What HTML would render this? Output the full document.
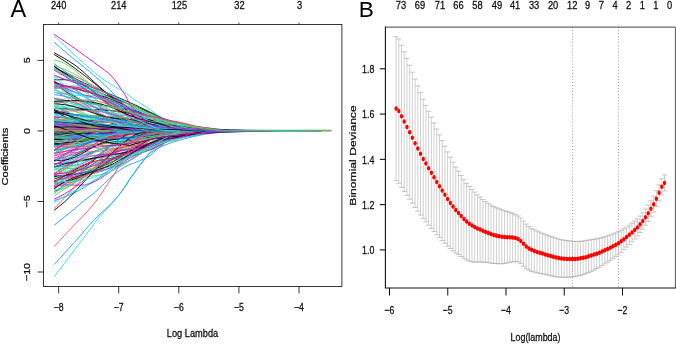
<!DOCTYPE html>
<html><head><meta charset="utf-8"><title>LASSO coefficient paths and cross-validation</title>
<style>html,body{margin:0;padding:0;background:#fff}svg{display:block;will-change:transform}text{font-family:"Liberation Sans", sans-serif}</style>
</head><body>
<svg width="676" height="344" viewBox="0 0 676 344">
<rect width="676" height="344" fill="#fff"/>
<g fill="none" stroke-width="0.9" stroke-linejoin="round">
<polyline stroke="#000000" points="54.1,119.7 59.1,119.8 64.2,120.1 69.2,120.5 74.3,121.0 79.3,121.6 84.4,122.3 89.4,123.1 94.4,123.9 99.5,124.7 104.5,125.6 109.6,126.4 114.6,127.2 119.7,127.9 124.7,128.5 129.7,129.1 134.8,129.5 139.8,129.8 144.9,130.1 149.9,130.3 155.0,130.3 160.0,130.4 165.0,130.5 170.1,130.7 175.1,130.9 180.2,130.9"/>
<polyline stroke="#DF536B" points="54.1,156.0 59.1,153.8 64.2,151.7 69.2,149.7 74.3,147.6 79.3,145.7 84.4,143.7 89.4,141.9 94.4,140.1 99.5,138.4 104.5,136.8 109.6,135.3 114.6,134.0 119.7,132.7 124.7,131.7 129.7,131.1 134.8,130.9 139.8,130.9"/>
<polyline stroke="#61D04F" points="54.1,119.7 59.1,120.5 64.2,121.2 69.2,121.9 74.3,122.5 79.3,123.1 84.4,123.8 89.4,124.6 94.4,125.5 99.5,126.4 104.5,127.4 109.6,128.6 114.6,129.9 119.7,130.8 124.7,130.9 129.7,130.9"/>
<polyline stroke="#2297E6" points="54.1,137.9 59.1,137.9 64.2,138.2 69.2,138.6 74.3,139.1 79.3,139.5 84.4,139.8 89.4,139.9 94.4,139.6 99.5,139.1 104.5,138.4 109.6,137.6 114.6,136.7 119.7,135.8 124.7,135.1 129.7,134.5 134.8,134.0 139.8,133.7 144.9,133.6 149.9,133.4 155.0,133.3 160.0,132.9 165.0,132.4 170.1,131.8 175.1,131.1 180.2,130.9 185.2,130.9"/>
<polyline stroke="#28E2E5" points="54.1,131.0 59.1,131.0 64.2,131.0 69.2,131.1 74.3,131.1 79.3,131.2 84.4,131.2 89.4,131.2 94.4,131.2 99.5,131.2 104.5,131.0 109.6,130.9 114.6,130.9"/>
<polyline stroke="#CD0BBC" points="54.1,112.7 59.1,112.8 64.2,113.1 69.2,113.7 74.3,114.4 79.3,115.2 84.4,116.1 89.4,117.1 94.4,118.1 99.5,119.1 104.5,120.1 109.6,121.0 114.6,121.9 119.7,122.7 124.7,123.4 129.7,124.1 134.8,124.6 139.8,125.2 144.9,125.7 149.9,126.3 155.0,126.9 160.0,127.5 165.0,128.4 170.1,129.3 175.1,130.4 180.2,130.9 185.2,130.9"/>
<polyline stroke="#000000" points="54.1,146.0 59.1,144.8 64.2,143.7 69.2,142.6 74.3,141.7 79.3,140.7 84.4,139.8 89.4,138.8 94.4,137.9 99.5,136.9 104.5,135.9 109.6,134.9 114.6,133.9 119.7,132.7 124.7,131.7 129.7,131.0 134.8,130.9 139.8,130.9"/>
<polyline stroke="#DF536B" points="54.1,137.2 59.1,136.0 64.2,135.0 69.2,134.2 74.3,133.5 79.3,133.0 84.4,132.6 89.4,132.2 94.4,131.7 99.5,130.9 104.5,130.9"/>
<polyline stroke="#61D04F" points="54.1,147.1 59.1,146.0 64.2,144.6 69.2,143.2 74.3,141.7 79.3,140.3 84.4,138.9 89.4,137.8 94.4,136.8 99.5,136.1 104.5,135.6 109.6,135.3 114.6,135.1 119.7,134.9 124.7,134.8 129.7,134.7 134.8,134.4 139.8,134.0 144.9,133.3 149.9,132.5 155.0,131.8 160.0,131.2 165.0,130.9 170.1,130.9"/>
<polyline stroke="#2297E6" points="54.1,122.9 59.1,123.4 64.2,123.7 69.2,123.9 74.3,123.8 79.3,123.7 84.4,123.7 89.4,123.7 94.4,123.9 99.5,124.3 104.5,124.9 109.6,125.6 114.6,126.5 119.7,127.5 124.7,128.6 129.7,129.5 134.8,130.3 139.8,130.9 144.9,130.9"/>
<polyline stroke="#28E2E5" points="54.1,117.3 59.1,117.5 64.2,117.5 69.2,117.5 74.3,117.5 79.3,117.5 84.4,117.6 89.4,117.9 94.4,118.3 99.5,118.9 104.5,119.7 109.6,120.7 114.6,121.8 119.7,123.1 124.7,124.5 129.7,125.9 134.8,127.3 139.8,128.6 144.9,129.7 149.9,130.7 155.0,130.9 160.0,130.9"/>
<polyline stroke="#CD0BBC" points="54.1,126.1 59.1,126.8 64.2,127.3 69.2,127.6 74.3,127.7 79.3,127.6 84.4,127.5 89.4,127.3 94.4,127.3 99.5,127.3 104.5,127.4 109.6,127.7 114.6,128.2 119.7,128.7 124.7,129.2 129.7,129.7 134.8,130.2 139.8,130.6 144.9,130.7 149.9,130.8 155.0,130.9 160.0,130.9 165.0,130.9"/>
<polyline stroke="#000000" points="54.1,84.3 59.1,87.2 64.2,90.4 69.2,93.5 74.3,96.4 79.3,99.0 84.4,101.2 89.4,102.9 94.4,104.1 99.5,105.0 104.5,105.6 109.6,106.2 114.6,106.7 119.7,107.4 124.7,108.3 129.7,109.7 134.8,111.2 139.8,112.3 144.9,114.2 149.9,116.3 155.0,118.4 160.0,120.0 165.0,121.2 170.1,122.3 175.1,123.1 180.2,123.9 185.2,124.9 190.3,125.9 195.3,127.6 200.3,128.9 205.4,129.9 210.4,130.7 215.5,130.9 220.5,130.9"/>
<polyline stroke="#DF536B" points="54.1,68.6 59.1,70.3 64.2,72.2 69.2,74.1 74.3,76.3 79.3,78.5 84.4,80.9 89.4,83.4 94.4,86.1 99.5,88.8 104.5,91.5 109.6,94.4 114.6,97.2 119.7,100.0 124.7,102.7 129.7,105.3 134.8,107.9 139.8,110.3 144.9,112.6 149.9,114.7 155.0,116.7 160.0,118.4 165.0,119.9 170.1,121.0 175.1,122.1 180.2,123.2 185.2,125.5 190.3,127.9 195.3,129.5 200.3,130.6 205.4,130.9 210.4,130.9"/>
<polyline stroke="#61D04F" points="54.1,145.5 59.1,144.1 64.2,142.7 69.2,141.4 74.3,140.1 79.3,139.1 84.4,138.3 89.4,137.7 94.4,137.4 99.5,137.3 104.5,137.4 109.6,137.4 114.6,137.4 119.7,137.4 124.7,137.1 129.7,136.7 134.8,136.1 139.8,135.4 144.9,134.5 149.9,133.6 155.0,132.7 160.0,132.0 165.0,131.5 170.1,131.0 175.1,130.9 180.2,130.9"/>
<polyline stroke="#2297E6" points="54.1,66.8 59.1,70.2 64.2,73.5 69.2,76.6 74.3,79.7 79.3,82.7 84.4,85.7 89.4,88.7 94.4,91.7 99.5,94.9 104.5,98.1 109.6,101.5 114.6,105.0 119.7,108.7 124.7,112.5 129.7,116.5 134.8,121.0 139.8,125.3 144.9,129.2 149.9,130.6 155.0,130.7 160.0,130.7 165.0,130.7 170.1,130.7 175.1,130.8 180.2,130.8 185.2,130.8 190.3,130.8 195.3,130.8 200.3,130.9 205.4,130.9 210.4,130.9 215.5,130.9 220.5,130.9"/>
<polyline stroke="#28E2E5" points="54.1,145.5 59.1,146.0 64.2,146.3 69.2,146.2 74.3,145.8 79.3,145.1 84.4,144.2 89.4,143.2 94.4,142.1 99.5,141.1 104.5,140.1 109.6,139.3 114.6,138.6 119.7,138.2 124.7,137.8 129.7,137.6 134.8,137.3 139.8,137.0 144.9,136.7 149.9,136.2 155.0,135.4 160.0,134.4 165.0,133.2 170.1,132.1 175.1,131.0 180.2,130.9 185.2,130.9"/>
<polyline stroke="#CD0BBC" points="54.1,158.2 59.1,156.4 64.2,154.1 69.2,151.6 74.3,149.0 79.3,146.4 84.4,144.2 89.4,142.3 94.4,140.8 99.5,139.8 104.5,139.3 109.6,139.0 114.6,139.0 119.7,139.0 124.7,138.9 129.7,138.7 134.8,138.2 139.8,137.4 144.9,136.3 149.9,135.2 155.0,133.8 160.0,132.7 165.0,131.8 170.1,131.3 175.1,131.0 180.2,130.9 185.2,130.9"/>
<polyline stroke="#000000" points="54.1,127.0 59.1,128.6 64.2,129.9 69.2,130.7 74.3,130.9 79.3,130.9"/>
<polyline stroke="#DF536B" points="54.1,92.1 59.1,93.7 64.2,95.7 69.2,98.1 74.3,100.9 79.3,104.0 84.4,107.1 89.4,110.2 94.4,113.1 99.5,115.7 104.5,118.0 109.6,119.9 114.6,121.5 119.7,122.8 124.7,123.8 129.7,124.6 134.8,125.4 139.8,126.3 144.9,127.4 149.9,128.8 155.0,130.2 160.0,130.9 165.0,130.9"/>
<polyline stroke="#61D04F" points="54.1,139.2 59.1,139.2 64.2,139.1 69.2,138.9 74.3,138.7 79.3,138.3 84.4,137.9 89.4,137.4 94.4,136.8 99.5,136.2 104.5,135.5 109.6,134.8 114.6,134.0 119.7,133.3 124.7,132.5 129.7,131.9 134.8,131.6 139.8,131.5 144.9,131.4 149.9,131.3 155.0,131.3 160.0,131.2 165.0,131.1 170.1,131.0 175.1,131.0 180.2,130.9 185.2,130.9"/>
<polyline stroke="#2297E6" points="54.1,137.0 59.1,136.4 64.2,135.8 69.2,135.1 74.3,134.5 79.3,133.8 84.4,133.1 89.4,132.5 94.4,132.0 99.5,131.5 104.5,131.2 109.6,131.0 114.6,130.9 119.7,130.9"/>
<polyline stroke="#28E2E5" points="54.1,92.1 59.1,93.1 64.2,94.0 69.2,94.7 74.3,95.2 79.3,95.5 84.4,95.6 89.4,95.7 94.4,95.9 99.5,96.3 104.5,96.8 109.6,97.7 114.6,98.9 119.7,100.0 124.7,102.6 129.7,105.4 134.8,108.2 139.8,110.9 144.9,113.4 149.9,115.7 155.0,117.9 160.0,119.5 165.0,120.7 170.1,121.9 175.1,122.8 180.2,124.7 185.2,127.0 190.3,128.9 195.3,130.4 200.3,130.9 205.4,130.9"/>
<polyline stroke="#CD0BBC" points="54.1,126.9 59.1,127.5 64.2,128.1 69.2,128.6 74.3,129.0 79.3,129.4 84.4,129.7 89.4,129.9 94.4,130.1 99.5,130.2 104.5,130.3 109.6,130.5 114.6,130.6 119.7,130.9 124.7,130.9 129.7,130.9"/>
<polyline stroke="#000000" points="54.1,79.8 59.1,79.8 64.2,79.7 69.2,80.0 74.3,80.8 79.3,82.6 84.4,85.2 89.4,88.6 94.4,92.6 99.5,96.8 104.5,100.8 109.6,104.4 114.6,107.3 119.7,109.5 124.7,111.0 129.7,112.0 134.8,112.7 139.8,113.4 144.9,114.4 149.9,115.8 155.0,117.7 160.0,120.1 165.0,122.9 170.1,125.5 175.1,127.7 180.2,129.4 185.2,130.8 190.3,130.9 195.3,130.9 200.3,130.9"/>
<polyline stroke="#DF536B" points="54.1,118.5 59.1,119.7 64.2,121.2 69.2,122.9 74.3,124.7 79.3,126.4 84.4,128.0 89.4,129.2 94.4,130.1 99.5,130.6 104.5,130.8 109.6,130.9 114.6,131.1 119.7,131.0 124.7,131.0 129.7,131.0 134.8,131.0 139.8,131.0 144.9,131.0 149.9,131.0 155.0,131.0 160.0,131.0 165.0,131.0 170.1,130.9 175.1,130.9"/>
<polyline stroke="#61D04F" points="54.1,175.5 59.1,173.2 64.2,171.7 69.2,170.8 74.3,170.3 79.3,170.0 84.4,169.6 89.4,168.8 94.4,167.7 99.5,166.0 104.5,163.7 109.6,161.1 114.6,158.1 119.7,155.0 124.7,152.1 129.7,149.3 134.8,147.3 139.8,145.7 144.9,144.3 149.9,142.7 155.0,141.0 160.0,139.7 165.0,138.8 170.1,137.8 175.1,137.2 180.2,136.6 185.2,135.8 190.3,135.0 195.3,134.1 200.3,133.6 205.4,132.9 210.4,132.1 215.5,131.5 220.5,131.1 225.6,130.9 230.6,130.9"/>
<polyline stroke="#2297E6" points="54.1,129.7 59.1,130.1 64.2,130.9 69.2,130.9"/>
<polyline stroke="#28E2E5" points="54.1,88.2 59.1,88.4 64.2,88.2 69.2,87.9 74.3,87.7 79.3,87.7 84.4,88.1 89.4,89.0 94.4,90.5 99.5,92.4 104.5,94.9 109.6,97.7 114.6,100.7 119.7,103.8 124.7,106.8 129.7,109.6 134.8,112.2 139.8,114.4 144.9,116.3 149.9,118.0 155.0,119.3 160.0,120.7 165.0,122.5 170.1,124.5 175.1,126.9 180.2,127.6 185.2,128.0 190.3,128.5 195.3,129.0 200.3,129.3 205.4,129.7 210.4,130.2 215.5,130.5 220.5,130.8 225.6,130.9 230.6,130.9"/>
<polyline stroke="#CD0BBC" points="54.1,160.4 59.1,158.9 64.2,157.2 69.2,155.5 74.3,153.7 79.3,151.8 84.4,149.8 89.4,147.9 94.4,145.9 99.5,143.9 104.5,141.9 109.6,140.0 114.6,138.1 119.7,136.3 124.7,134.7 129.7,133.8 134.8,133.5 139.8,133.2 144.9,132.9 149.9,132.7 155.0,132.4 160.0,132.2 165.0,132.1 170.1,132.0 175.1,131.9 180.2,131.8 185.2,131.6 190.3,131.4 195.3,131.2 200.3,131.0 205.4,130.9 210.4,130.9"/>
<polyline stroke="#000000" points="54.1,144.3 59.1,144.2 64.2,144.1 69.2,144.1 74.3,143.9 79.3,143.6 84.4,143.1 89.4,142.5 94.4,141.6 99.5,140.6 104.5,139.5 109.6,138.3 114.6,137.1 119.7,136.0 124.7,134.9 129.7,134.0 134.8,133.3 139.8,132.8 144.9,132.6 149.9,132.3 155.0,132.0 160.0,131.7 165.0,131.7 170.1,131.6 175.1,131.5 180.2,131.5 185.2,131.4 190.3,131.2 195.3,131.1 200.3,131.0 205.4,130.9 210.4,130.9"/>
<polyline stroke="#DF536B" points="54.1,135.8 59.1,134.4 64.2,133.2 69.2,131.9 74.3,130.5 79.3,128.9 84.4,127.2 89.4,125.3 94.4,123.4 99.5,121.4 104.5,119.5 109.6,117.9 114.6,116.5 119.7,115.6 124.7,115.3 129.7,115.3 134.8,115.5 139.8,117.4 144.9,119.1 149.9,120.6 155.0,122.1 160.0,123.5 165.0,125.9 170.1,128.0 175.1,129.6 180.2,130.9 185.2,130.9 190.3,130.9"/>
<polyline stroke="#61D04F" points="54.1,140.8 59.1,140.3 64.2,139.5 69.2,138.6 74.3,137.6 79.3,136.4 84.4,135.2 89.4,134.0 94.4,133.0 99.5,132.1 104.5,131.5 109.6,131.1 114.6,130.9 119.7,130.8 124.7,130.8 129.7,131.0 134.8,131.0 139.8,131.0 144.9,130.9 149.9,130.9 155.0,130.9 160.0,130.9"/>
<polyline stroke="#2297E6" points="54.1,136.8 59.1,136.1 64.2,135.4 69.2,134.6 74.3,133.8 79.3,133.1 84.4,132.4 89.4,131.8 94.4,131.4 99.5,131.2 104.5,131.0 109.6,130.9 114.6,130.9"/>
<polyline stroke="#28E2E5" points="54.1,134.5 59.1,133.7 64.2,133.0 69.2,132.4 74.3,131.9 79.3,131.5 84.4,131.3 89.4,131.2 94.4,131.1 99.5,131.1 104.5,131.1 109.6,130.9 114.6,130.9"/>
<polyline stroke="#CD0BBC" points="54.1,116.6 59.1,117.4 64.2,118.1 69.2,118.6 74.3,118.9 79.3,119.2 84.4,119.3 89.4,119.4 94.4,119.5 99.5,119.6 104.5,119.9 109.6,120.3 114.6,120.8 119.7,121.6 124.7,122.6 129.7,123.7 134.8,125.0 139.8,126.5 144.9,128.0 149.9,129.4 155.0,130.6 160.0,130.9 165.0,130.9"/>
<polyline stroke="#000000" points="54.1,52.7 59.1,55.5 64.2,58.3 69.2,61.4 74.3,64.7 79.3,68.5 84.4,72.9 89.4,77.6 94.4,82.3 99.5,86.8 104.5,91.1 109.6,95.1 114.6,98.8 119.7,102.1 124.7,105.1 129.7,107.7 134.8,110.1 139.8,112.2 144.9,114.1 149.9,116.0 155.0,117.8 160.0,119.6 165.0,121.6 170.1,123.8 175.1,126.0 180.2,128.2 185.2,130.1 190.3,130.9 195.3,130.9"/>
<polyline stroke="#DF536B" points="54.1,102.7 59.1,102.6 64.2,102.2 69.2,101.6 74.3,100.9 79.3,100.4 84.4,100.0 89.4,100.1 94.4,100.5 99.5,101.5 104.5,103.1 109.6,105.1 114.6,107.6 119.7,110.4 124.7,113.4 129.7,116.5 134.8,119.5 139.8,122.3 144.9,124.8 149.9,127.4 155.0,128.2 160.0,128.6 165.0,128.8 170.1,129.1 175.1,129.7 180.2,130.2 185.2,130.6 190.3,130.9 195.3,130.9 200.3,130.9"/>
<polyline stroke="#61D04F" points="54.1,192.1 59.1,188.2 64.2,184.7 69.2,181.9 74.3,179.8 79.3,178.3 84.4,177.2 89.4,176.4 94.4,175.7 99.5,174.9 104.5,173.7 109.6,172.0 114.6,169.6 119.7,167.0 124.7,164.1 129.7,160.7 134.8,157.1 139.8,153.4 144.9,149.9 149.9,146.6 155.0,143.7 160.0,141.4 165.0,139.3 170.1,137.2 175.1,134.9 180.2,132.4 185.2,132.0 190.3,131.8 195.3,131.6 200.3,131.5 205.4,131.4 210.4,131.3 215.5,131.1 220.5,131.0 225.6,131.0 230.6,130.9 235.6,130.9"/>
<polyline stroke="#2297E6" points="54.1,113.4 59.1,115.3 64.2,117.2 69.2,119.1 74.3,121.0 79.3,122.8 84.4,124.4 89.4,125.9 94.4,127.3 99.5,128.4 104.5,129.3 109.6,130.0 114.6,130.3 119.7,130.7 124.7,130.9 129.7,130.9"/>
<polyline stroke="#28E2E5" points="54.1,122.8 59.1,124.0 64.2,125.2 69.2,126.2 74.3,127.1 79.3,127.6 84.4,127.9 89.4,128.1 94.4,128.2 99.5,128.4 104.5,128.7 109.6,129.3 114.6,130.1 119.7,130.8 124.7,130.9 129.7,130.9"/>
<polyline stroke="#CD0BBC" points="54.1,121.6 59.1,122.3 64.2,123.1 69.2,124.2 74.3,125.4 79.3,126.8 84.4,128.2 89.4,129.5 94.4,130.6 99.5,131.4 104.5,132.0 109.6,132.2 114.6,132.2 119.7,132.0 124.7,131.8 129.7,131.5 134.8,131.3 139.8,131.3 144.9,131.4 149.9,131.4 155.0,131.2 160.0,130.9 165.0,130.9"/>
<polyline stroke="#000000" points="54.1,121.4 59.1,122.1 64.2,122.8 69.2,123.6 74.3,124.3 79.3,125.0 84.4,125.8 89.4,126.4 94.4,127.1 99.5,127.8 104.5,128.3 109.6,128.9 114.6,129.4 119.7,129.8 124.7,130.2 129.7,130.4 134.8,130.6 139.8,130.8 144.9,130.9 149.9,130.9"/>
<polyline stroke="#DF536B" points="54.1,153.5 59.1,149.8 64.2,146.9 69.2,144.7 74.3,143.4 79.3,142.6 84.4,142.1 89.4,141.8 94.4,141.3 99.5,140.5 104.5,139.3 109.6,137.7 114.6,135.9 119.7,133.9 124.7,132.0 129.7,130.3 134.8,129.0 139.8,128.5 144.9,128.5 149.9,128.8 155.0,129.1 160.0,129.4 165.0,129.5 170.1,129.7 175.1,129.8 180.2,129.9 185.2,130.1 190.3,130.2 195.3,130.4 200.3,130.5 205.4,130.7 210.4,130.8 215.5,130.9 220.5,130.9 225.6,130.9"/>
<polyline stroke="#61D04F" points="54.1,101.2 59.1,101.3 64.2,101.9 69.2,103.0 74.3,104.5 79.3,106.4 84.4,108.5 89.4,110.7 94.4,112.8 99.5,114.7 104.5,116.3 109.6,117.6 114.6,118.5 119.7,119.7 124.7,120.9 129.7,121.9 134.8,122.8 139.8,123.8 144.9,124.7 149.9,125.5 155.0,126.3 160.0,126.9 165.0,127.3 170.1,127.7 175.1,128.0 180.2,128.5 185.2,129.3 190.3,130.1 195.3,130.6 200.3,130.9 205.4,130.9"/>
<polyline stroke="#2297E6" points="54.1,89.8 59.1,91.6 64.2,93.4 69.2,95.4 74.3,97.5 79.3,99.8 84.4,102.2 89.4,104.6 94.4,107.2 99.5,109.9 104.5,112.5 109.6,115.1 114.6,117.6 119.7,119.9 124.7,122.1 129.7,124.1 134.8,125.8 139.8,127.2 144.9,128.4 149.9,129.1 155.0,129.4 160.0,129.6 165.0,129.9 170.1,130.3 175.1,130.4 180.2,130.5 185.2,130.5 190.3,130.6 195.3,130.7 200.3,130.8 205.4,130.9 210.4,130.9 215.5,130.9"/>
<polyline stroke="#2297E6" points="54.1,225.2 59.1,221.2 64.2,217.2 69.2,213.2 74.3,209.0 79.3,204.7 84.4,200.4 89.4,196.6 94.4,192.8 99.5,188.3 104.5,183.3 109.6,178.4 114.6,174.1 119.7,170.3 124.7,167.0 129.7,164.6 134.8,162.7 139.8,160.7 144.9,158.5 149.9,155.7 155.0,151.0 160.0,146.6 165.0,143.0 170.1,139.9 175.1,137.4 180.2,135.5 185.2,133.9 190.3,132.7 195.3,131.8 200.3,131.2 205.4,130.9 210.4,130.9"/>
<polyline stroke="#CD0BBC" points="54.1,175.7 59.1,172.7 64.2,169.5 69.2,166.2 74.3,162.9 79.3,159.8 84.4,156.8 89.4,154.1 94.4,151.7 99.5,149.7 104.5,148.1 109.6,146.7 114.6,145.6 119.7,144.8 124.7,144.0 129.7,143.2 134.8,142.4 139.8,141.4 144.9,140.2 149.9,138.5 155.0,136.8 160.0,135.1 165.0,133.9 170.1,133.5 175.1,133.3 180.2,133.0 185.2,132.6 190.3,132.0 195.3,131.5 200.3,131.1 205.4,130.9 210.4,130.9"/>
<polyline stroke="#000000" points="54.1,65.9 59.1,69.8 64.2,73.5 69.2,76.9 74.3,80.1 79.3,83.0 84.4,85.7 89.4,88.2 94.4,90.5 99.5,92.6 104.5,94.7 109.6,96.6 114.6,98.5 119.7,100.4 124.7,102.3 129.7,104.3 134.8,106.3 139.8,108.4 144.9,110.6 149.9,113.0 155.0,115.6 160.0,118.1 165.0,120.3 170.1,121.9 175.1,122.8 180.2,123.6 185.2,124.6 190.3,125.7 195.3,126.8 200.3,127.4 205.4,128.1 210.4,128.6 215.5,129.0 220.5,129.4 225.6,129.6 230.6,129.9 235.6,130.0 240.7,130.1 245.7,130.2 250.8,130.3 255.8,130.4 260.9,130.5 265.9,130.5 270.9,130.5 276.0,130.6 281.0,130.6 286.1,130.6 291.1,130.7 296.2,130.7 301.2,130.7 306.2,130.8 311.3,130.9 316.3,130.9 321.4,130.9"/>
<polyline stroke="#DF536B" points="54.1,142.4 59.1,141.8 64.2,141.3 69.2,140.7 74.3,140.3 79.3,139.8 84.4,139.4 89.4,139.0 94.4,138.6 99.5,138.3 104.5,138.0 109.6,137.6 114.6,137.3 119.7,137.0 124.7,136.6 129.7,136.2 134.8,135.8 139.8,135.4 144.9,134.9 149.9,134.3 155.0,133.7 160.0,132.9 165.0,132.1 170.1,131.3 175.1,130.9 180.2,130.9"/>
<polyline stroke="#61D04F" points="54.1,143.4 59.1,143.5 64.2,143.3 69.2,142.8 74.3,142.1 79.3,141.2 84.4,140.2 89.4,139.1 94.4,137.9 99.5,136.8 104.5,135.7 109.6,134.8 114.6,133.9 119.7,133.1 124.7,132.6 129.7,132.0 134.8,131.3 139.8,130.9 144.9,130.9"/>
<polyline stroke="#2297E6" points="54.1,146.7 59.1,145.1 64.2,143.1 69.2,141.1 74.3,139.1 79.3,137.1 84.4,135.5 89.4,134.1 94.4,133.2 99.5,132.6 104.5,132.2 109.6,132.1 114.6,132.0 119.7,131.9 124.7,131.6 129.7,131.2 134.8,130.9 139.8,130.9"/>
<polyline stroke="#28E2E5" points="54.1,85.1 59.1,86.0 64.2,86.2 69.2,86.1 74.3,85.9 79.3,86.1 84.4,86.9 89.4,88.3 94.4,90.3 99.5,92.9 104.5,95.9 109.6,98.9 114.6,101.7 119.7,104.1 124.7,105.7 129.7,107.1 134.8,108.5 139.8,111.2 144.9,113.7 149.9,115.8 155.0,118.0 160.0,119.6 165.0,120.9 170.1,123.8 175.1,126.4 180.2,128.6 185.2,130.4 190.3,130.9 195.3,130.9"/>
<polyline stroke="#CD0BBC" points="54.1,70.2 59.1,73.1 64.2,76.0 69.2,79.0 74.3,82.1 79.3,85.2 84.4,88.4 89.4,91.7 94.4,95.0 99.5,98.3 104.5,101.7 109.6,104.9 114.6,108.2 119.7,111.3 124.7,114.3 129.7,117.1 134.8,119.7 139.8,122.1 144.9,124.3 149.9,126.2 155.0,127.8 160.0,129.0 165.0,129.7 170.1,130.2 175.1,130.6 180.2,130.9 185.2,130.9 190.3,130.9 195.3,130.9 200.3,130.9 205.4,130.9 210.4,130.9 215.5,130.9 220.5,130.9"/>
<polyline stroke="#000000" points="54.1,138.3 59.1,138.3 64.2,138.0 69.2,137.4 74.3,136.6 79.3,135.7 84.4,134.8 89.4,134.0 94.4,133.3 99.5,132.8 104.5,132.5 109.6,132.3 114.6,132.1 119.7,131.8 124.7,131.3 129.7,130.9 134.8,130.9"/>
<polyline stroke="#DF536B" points="54.1,115.9 59.1,116.7 64.2,117.8 69.2,119.2 74.3,120.7 79.3,122.2 84.4,123.7 89.4,125.0 94.4,126.1 99.5,127.0 104.5,127.6 109.6,128.0 114.6,128.3 119.7,128.4 124.7,128.6 129.7,128.9 134.8,129.5 139.8,130.1 144.9,130.7 149.9,130.8 155.0,130.8 160.0,130.8 165.0,130.8 170.1,130.9 175.1,130.9 180.2,130.9 185.2,130.9"/>
<polyline stroke="#61D04F" points="54.1,191.2 59.1,190.1 64.2,188.5 69.2,186.3 74.3,183.4 79.3,179.9 84.4,175.8 89.4,171.5 94.4,167.1 99.5,162.9 104.5,159.1 109.6,155.7 114.6,152.9 119.7,150.6 124.7,148.8 129.7,147.1 134.8,145.5 139.8,143.8 144.9,141.5 149.9,138.8 155.0,135.9 160.0,134.6 165.0,134.2 170.1,133.8 175.1,133.5 180.2,133.3 185.2,132.9 190.3,132.6 195.3,132.3 200.3,132.0 205.4,131.8 210.4,131.7 215.5,131.5 220.5,131.4 225.6,131.3 230.6,131.3 235.6,131.2 240.7,131.2 245.7,131.1 250.8,131.1 255.8,131.1 260.9,131.0 265.9,131.0 270.9,131.0 276.0,130.9"/>
<polyline stroke="#2297E6" points="54.1,133.7 59.1,133.3 64.2,133.1 69.2,133.0 74.3,132.8 79.3,132.6 84.4,132.4 89.4,132.1 94.4,131.8 99.5,131.5 104.5,131.1 109.6,130.9 114.6,130.9"/>
<polyline stroke="#28E2E5" points="54.1,87.3 59.1,88.0 64.2,89.1 69.2,90.5 74.3,92.5 79.3,94.8 84.4,97.5 89.4,100.3 94.4,103.1 99.5,105.7 104.5,108.0 109.6,109.9 114.6,111.4 119.7,112.5 124.7,113.2 129.7,113.6 134.8,113.9 139.8,114.1 144.9,114.7 149.9,115.5 155.0,116.3 160.0,117.5 165.0,119.0 170.1,120.7 175.1,124.0 180.2,126.8 185.2,129.1 190.3,130.9 195.3,130.9 200.3,130.9"/>
<polyline stroke="#CD0BBC" points="54.1,140.1 59.1,138.4 64.2,136.9 69.2,135.6 74.3,134.6 79.3,133.8 84.4,133.2 89.4,132.9 94.4,132.8 99.5,132.7 104.5,132.7 109.6,132.8 114.6,132.7 119.7,132.6 124.7,132.3 129.7,132.0 134.8,131.6 139.8,131.2 144.9,131.0 149.9,130.9 155.0,130.9"/>
<polyline stroke="#000000" points="54.1,164.6 59.1,163.0 64.2,160.9 69.2,158.5 74.3,155.9 79.3,153.3 84.4,150.7 89.4,148.3 94.4,146.2 99.5,144.6 104.5,143.3 109.6,142.4 114.6,141.8 119.7,141.4 124.7,141.1 129.7,140.7 134.8,140.2 139.8,139.6 144.9,138.4 149.9,137.1 155.0,135.9 160.0,135.0 165.0,134.6 170.1,134.1 175.1,133.8 180.2,133.5 185.2,133.2 190.3,132.8 195.3,132.4 200.3,131.9 205.4,131.5 210.4,131.2 215.5,131.0 220.5,130.9 225.6,130.9"/>
<polyline stroke="#DF536B" points="54.1,124.3 59.1,125.3 64.2,126.2 69.2,126.7 74.3,127.0 79.3,127.0 84.4,127.0 89.4,126.9 94.4,126.8 99.5,126.9 104.5,127.1 109.6,127.5 114.6,128.1 119.7,128.7 124.7,129.4 129.7,130.0 134.8,130.4 139.8,130.7 144.9,130.9 149.9,130.9 155.0,130.9"/>
<polyline stroke="#61D04F" points="54.1,139.6 59.1,139.1 64.2,138.5 69.2,137.5 74.3,136.4 79.3,135.2 84.4,134.0 89.4,132.9 94.4,132.0 99.5,131.4 104.5,131.0 109.6,130.9 114.6,130.9 119.7,131.0 124.7,131.1 129.7,131.0 134.8,130.9 139.8,130.9"/>
<polyline stroke="#2297E6" points="54.1,118.4 59.1,120.1 64.2,121.9 69.2,123.7 74.3,125.4 79.3,127.0 84.4,128.3 89.4,129.5 94.4,130.2 99.5,130.9 104.5,130.9"/>
<polyline stroke="#28E2E5" points="54.1,114.6 59.1,115.5 64.2,116.7 69.2,118.3 74.3,120.1 79.3,122.2 84.4,124.4 89.4,126.5 94.4,128.6 99.5,130.6 104.5,132.2 109.6,133.6 114.6,134.7 119.7,135.6 124.7,136.2 129.7,136.6 134.8,137.0 139.8,137.4 144.9,138.0 149.9,138.7 155.0,139.5 160.0,139.7 165.0,138.8 170.1,137.9 175.1,137.2 180.2,136.1 185.2,134.2 190.3,132.7 195.3,131.6 200.3,130.9 205.4,130.9"/>
<polyline stroke="#CD0BBC" points="54.1,180.8 59.1,179.5 64.2,178.2 69.2,177.1 74.3,176.0 79.3,174.9 84.4,173.9 89.4,173.0 94.4,171.9 99.5,170.8 104.5,169.6 109.6,168.3 114.6,166.7 119.7,164.9 124.7,162.8 129.7,160.3 134.8,157.6 139.8,154.5 144.9,151.0 149.9,146.8 155.0,142.5 160.0,138.0 165.0,133.4 170.1,131.6 175.1,131.5 180.2,131.4 185.2,131.4 190.3,131.3 195.3,131.2 200.3,131.2 205.4,131.1 210.4,131.1 215.5,131.1 220.5,131.0 225.6,131.0 230.6,131.0 235.6,131.0 240.7,131.0 245.7,131.0 250.8,131.0 255.8,131.0 260.9,131.0 265.9,131.0 270.9,131.0 276.0,130.9"/>
<polyline stroke="#000000" points="54.1,66.3 59.1,69.6 64.2,72.6 69.2,75.5 74.3,78.1 79.3,80.7 84.4,83.1 89.4,85.3 94.4,87.5 99.5,89.7 104.5,91.8 109.6,93.9 114.6,96.0 119.7,98.1 124.7,100.3 129.7,102.5 134.8,104.8 139.8,107.2 144.9,109.6 149.9,112.0 155.0,114.5 160.0,116.9 165.0,119.4 170.1,122.0 175.1,124.5 180.2,126.7 185.2,128.6 190.3,130.1 195.3,130.9 200.3,130.9"/>
<polyline stroke="#DF536B" points="54.1,185.8 59.1,182.4 64.2,178.9 69.2,175.4 74.3,171.9 79.3,168.5 84.4,165.3 89.4,162.3 94.4,159.4 99.5,156.8 104.5,154.4 109.6,152.2 114.6,150.2 119.7,148.4 124.7,146.8 129.7,145.2 134.8,143.7 139.8,142.2 144.9,140.6 149.9,138.9 155.0,137.0 160.0,135.0 165.0,133.2 170.1,132.8 175.1,132.6 180.2,132.4 185.2,132.2 190.3,132.0 195.3,131.8 200.3,131.7 205.4,131.5 210.4,131.4 215.5,131.3 220.5,131.2 225.6,131.2 230.6,131.1 235.6,131.1 240.7,131.0 245.7,131.0 250.8,131.0 255.8,130.9"/>
<polyline stroke="#61D04F" points="54.1,83.6 59.1,84.6 64.2,85.5 69.2,86.5 74.3,87.9 79.3,89.7 84.4,92.1 89.4,95.1 94.4,98.5 99.5,102.2 104.5,106.1 109.6,110.0 114.6,113.6 119.7,116.8 124.7,119.6 129.7,121.9 134.8,123.8 139.8,125.2 144.9,126.2 149.9,127.3 155.0,128.7 160.0,130.1 165.0,130.9 170.1,130.9"/>
<polyline stroke="#2297E6" points="54.1,133.5 59.1,132.9 64.2,132.3 69.2,131.8 74.3,131.4 79.3,131.2 84.4,131.1 89.4,131.1 94.4,131.2 99.5,131.3 104.5,131.4 109.6,131.3 114.6,131.1 119.7,130.9 124.7,130.9"/>
<polyline stroke="#28E2E5" points="54.1,125.4 59.1,126.4 64.2,127.3 69.2,128.3 74.3,129.1 79.3,129.8 84.4,130.4 89.4,130.8 94.4,131.0 99.5,131.1 104.5,131.1 109.6,131.0 114.6,130.9 119.7,130.9"/>
<polyline stroke="#CD0BBC" points="54.1,137.8 59.1,137.4 64.2,137.0 69.2,136.8 74.3,136.7 79.3,136.6 84.4,136.6 89.4,136.6 94.4,136.6 99.5,136.5 104.5,136.4 109.6,136.2 114.6,135.8 119.7,135.3 124.7,134.8 129.7,134.1 134.8,133.2 139.8,132.4 144.9,131.6 149.9,131.0 155.0,130.9 160.0,130.9"/>
<polyline stroke="#000000" points="54.1,179.0 59.1,177.4 64.2,176.0 69.2,174.4 74.3,172.6 79.3,170.3 84.4,167.3 89.4,163.8 94.4,159.8 99.5,155.5 104.5,151.0 109.6,146.7 114.6,142.6 119.7,138.9 124.7,135.9 129.7,133.6 134.8,131.5 139.8,129.1 144.9,129.0 149.9,129.3 155.0,129.5 160.0,129.7 165.0,129.8 170.1,130.0 175.1,130.0 180.2,130.1 185.2,130.2 190.3,130.4 195.3,130.5 200.3,130.7 205.4,130.8 210.4,130.9 215.5,130.9 220.5,130.9"/>
<polyline stroke="#DF536B" points="54.1,132.4 59.1,131.8 64.2,131.4 69.2,130.9 74.3,130.9"/>
<polyline stroke="#28E2E5" points="54.1,276.6 59.1,270.3 64.2,263.6 69.2,256.9 74.3,250.2 79.3,243.5 84.4,236.9 89.4,230.0 94.4,223.1 99.5,216.9 104.5,211.5 109.6,206.0 114.6,200.2 119.7,194.1 124.7,186.7 129.7,178.7 134.8,171.5 139.8,164.7 144.9,158.2 149.9,152.1 155.0,147.9 160.0,144.5 165.0,142.1 170.1,140.6 175.1,139.3 180.2,138.2 185.2,137.3 190.3,136.4 195.3,135.4 200.3,134.4 205.4,133.3 210.4,132.7 215.5,132.2 220.5,131.8 225.6,131.4 230.6,131.0 235.6,130.9 240.7,130.9"/>
<polyline stroke="#2297E6" points="54.1,134.7 59.1,132.9 64.2,131.6 69.2,131.0 74.3,130.9 79.3,130.9"/>
<polyline stroke="#28E2E5" points="54.1,177.3 59.1,175.1 64.2,172.6 69.2,170.1 74.3,167.4 79.3,164.7 84.4,162.0 89.4,159.4 94.4,156.7 99.5,154.2 104.5,151.7 109.6,149.3 114.6,147.1 119.7,145.0 124.7,143.6 129.7,142.0 134.8,140.3 139.8,139.2 144.9,138.1 149.9,137.2 155.0,136.3 160.0,135.6 165.0,135.1 170.1,134.6 175.1,134.3 180.2,133.9 185.2,133.5 190.3,133.1 195.3,132.6 200.3,132.4 205.4,132.1 210.4,131.9 215.5,131.6 220.5,131.3 225.6,131.1 230.6,131.0 235.6,130.9 240.7,130.9"/>
<polyline stroke="#CD0BBC" points="54.1,86.8 59.1,86.6 64.2,86.4 69.2,86.5 74.3,86.9 79.3,87.8 84.4,89.2 89.4,91.0 94.4,93.2 99.5,95.8 104.5,98.6 109.6,101.3 114.6,104.0 119.7,106.6 124.7,108.7 129.7,110.3 134.8,111.8 139.8,113.6 144.9,115.8 149.9,117.7 155.0,119.6 160.0,121.0 165.0,122.1 170.1,123.1 175.1,124.3 180.2,126.5 185.2,128.4 190.3,129.9 195.3,130.9 200.3,130.9"/>
<polyline stroke="#000000" points="54.1,109.6 59.1,111.2 64.2,112.6 69.2,113.7 74.3,114.5 79.3,115.1 84.4,115.5 89.4,115.7 94.4,116.0 99.5,116.3 104.5,116.7 109.6,117.3 114.6,118.3 119.7,119.3 124.7,120.2 129.7,121.2 134.8,122.2 139.8,123.3 144.9,124.2 149.9,125.1 155.0,125.9 160.0,126.6 165.0,127.0 170.1,127.5 175.1,127.8 180.2,128.1 185.2,129.1 190.3,129.9 195.3,130.5 200.3,130.9 205.4,130.9 210.4,130.9"/>
<polyline stroke="#DF536B" points="54.1,133.1 59.1,132.8 64.2,132.4 69.2,132.1 74.3,131.8 79.3,131.5 84.4,131.3 89.4,131.1 94.4,131.0 99.5,131.0 104.5,131.0 109.6,130.9 114.6,130.9"/>
<polyline stroke="#61D04F" points="54.1,150.9 59.1,149.3 64.2,148.0 69.2,146.9 74.3,146.0 79.3,145.3 84.4,144.8 89.4,144.5 94.4,144.2 99.5,144.0 104.5,143.9 109.6,143.6 114.6,143.3 119.7,142.9 124.7,142.3 129.7,141.6 134.8,140.7 139.8,139.7 144.9,138.5 149.9,137.2 155.0,135.8 160.0,134.4 165.0,133.1 170.1,132.1 175.1,131.1 180.2,130.9 185.2,130.9"/>
<polyline stroke="#2297E6" points="54.1,137.9 59.1,138.0 64.2,138.0 69.2,137.8 74.3,137.4 79.3,136.7 84.4,135.9 89.4,135.0 94.4,134.1 99.5,133.2 104.5,132.6 109.6,132.1 114.6,131.8 119.7,131.7 124.7,131.7 129.7,131.8 134.8,131.8 139.8,131.7 144.9,131.4 149.9,131.1 155.0,130.9 160.0,130.9"/>
<polyline stroke="#28E2E5" points="54.1,119.6 59.1,119.5 64.2,119.6 69.2,119.9 74.3,120.5 79.3,121.2 84.4,122.1 89.4,123.1 94.4,124.1 99.5,125.2 104.5,126.4 109.6,127.4 114.6,128.5 119.7,129.2 124.7,130.0 129.7,130.8 134.8,130.9 139.8,130.9"/>
<polyline stroke="#CD0BBC" points="54.1,84.2 59.1,84.7 64.2,85.6 69.2,87.1 74.3,89.3 79.3,92.2 84.4,95.6 89.4,99.3 94.4,103.1 99.5,106.7 104.5,109.9 109.6,112.7 114.6,114.8 119.7,116.4 124.7,117.4 129.7,118.2 134.8,118.7 139.8,119.3 144.9,120.0 149.9,121.1 155.0,122.7 160.0,124.7 165.0,126.7 170.1,128.4 175.1,129.8 180.2,130.0 185.2,130.3 190.3,130.6 195.3,130.8 200.3,130.9 205.4,130.9 210.4,130.9"/>
<polyline stroke="#000000" points="54.1,54.4 59.1,57.5 64.2,60.8 69.2,64.2 74.3,67.8 79.3,71.6 84.4,75.5 89.4,79.4 94.4,83.4 99.5,87.5 104.5,91.7 109.6,95.9 114.6,100.2 119.7,104.4 124.7,108.7 129.7,112.9 134.8,117.5 139.8,121.7 144.9,125.5 149.9,128.1 155.0,128.5 160.0,128.8 165.0,129.1 170.1,129.3 175.1,129.5 180.2,129.9 185.2,130.4 190.3,130.7 195.3,130.9 200.3,130.9"/>
<polyline stroke="#DF536B" points="54.1,191.3 59.1,189.2 64.2,186.7 69.2,183.9 74.3,180.9 79.3,177.7 84.4,174.4 89.4,171.2 94.4,168.1 99.5,165.2 104.5,162.6 109.6,160.2 114.6,158.2 119.7,156.3 124.7,154.8 129.7,153.3 134.8,152.0 139.8,150.8 144.9,149.5 149.9,148.1 155.0,146.6 160.0,144.6 165.0,142.4 170.1,140.1 175.1,137.8 180.2,135.7 185.2,134.9 190.3,134.2 195.3,133.5 200.3,133.1 205.4,132.7 210.4,132.4 215.5,132.1 220.5,131.9 225.6,131.7 230.6,131.6 235.6,131.5 240.7,131.4 245.7,131.4 250.8,131.3 255.8,131.1 260.9,131.1 265.9,131.0 270.9,130.9"/>
<polyline stroke="#61D04F" points="54.1,170.1 59.1,168.8 64.2,168.3 69.2,168.4 74.3,168.7 79.3,168.8 84.4,168.2 89.4,167.0 94.4,164.9 99.5,162.1 104.5,158.9 109.6,155.4 114.6,152.2 119.7,149.3 124.7,146.9 129.7,145.2 134.8,144.0 139.8,143.4 144.9,142.5 149.9,141.3 155.0,140.0 160.0,138.8 165.0,138.0 170.1,137.2 175.1,136.6 180.2,136.0 185.2,135.3 190.3,134.6 195.3,133.8 200.3,133.4 205.4,132.9 210.4,132.5 215.5,132.3 220.5,132.0 225.6,131.6 230.6,131.3 235.6,131.1 240.7,131.0 245.7,130.9"/>
<polyline stroke="#2297E6" points="54.1,194.2 59.1,189.2 64.2,184.8 69.2,181.3 74.3,178.6 79.3,176.6 84.4,175.3 89.4,174.3 94.4,173.3 99.5,172.0 104.5,170.3 109.6,168.0 114.6,165.1 119.7,161.8 124.7,158.2 129.7,154.6 134.8,151.3 139.8,148.6 144.9,146.6 149.9,144.8 155.0,143.0 160.0,141.5 165.0,140.3 170.1,139.2 175.1,138.5 180.2,137.7 185.2,136.8 190.3,135.8 195.3,134.8 200.3,134.2 205.4,133.5 210.4,133.1 215.5,132.7 220.5,132.3 225.6,132.1 230.6,131.9 235.6,131.8 240.7,131.7 245.7,131.6 250.8,131.5 255.8,131.4 260.9,131.4 265.9,131.3 270.9,131.3 276.0,131.3 281.0,131.2 286.1,131.2 291.1,131.2 296.2,131.1 301.2,131.1 306.2,131.1 311.3,131.0 316.3,131.0 321.4,130.9"/>
<polyline stroke="#28E2E5" points="54.1,119.7 59.1,120.1 64.2,120.3 69.2,120.5 74.3,120.6 79.3,120.8 84.4,121.1 89.4,121.7 94.4,122.5 99.5,123.5 104.5,124.8 109.6,126.2 114.6,127.9 119.7,129.5 124.7,130.8 129.7,130.9 134.8,130.9"/>
<polyline stroke="#CD0BBC" points="54.1,137.1 59.1,136.4 64.2,135.9 69.2,135.5 74.3,135.1 79.3,134.8 84.4,134.6 89.4,134.4 94.4,134.2 99.5,134.0 104.5,133.9 109.6,133.7 114.6,133.6 119.7,133.4 124.7,133.2 129.7,132.9 134.8,132.6 139.8,132.1 144.9,131.7 149.9,131.3 155.0,130.9 160.0,130.9"/>
<polyline stroke="#000000" points="54.1,110.1 59.1,113.6 64.2,116.4 69.2,118.6 74.3,120.0 79.3,120.7 84.4,120.9 89.4,120.8 94.4,120.7 99.5,120.9 104.5,121.5 109.6,122.5 114.6,124.1 119.7,126.1 124.7,128.4 129.7,130.8 134.8,133.0 139.8,135.0 144.9,136.6 149.9,137.5 155.0,137.9 160.0,138.3 165.0,138.8 170.1,139.1 175.1,138.4 180.2,137.6 185.2,136.7 190.3,135.7 195.3,134.7 200.3,134.1 205.4,133.1 210.4,132.2 215.5,131.6 220.5,131.1 225.6,130.9 230.6,130.9"/>
<polyline stroke="#DF536B" points="54.1,128.9 59.1,129.3 64.2,129.6 69.2,129.8 74.3,129.8 79.3,129.7 84.4,129.5 89.4,129.4 94.4,129.3 99.5,129.2 104.5,129.2 109.6,129.3 114.6,129.6 119.7,129.8 124.7,130.1 129.7,130.4 134.8,130.7 139.8,130.8 144.9,130.9 149.9,130.9 155.0,130.9"/>
<polyline stroke="#61D04F" points="54.1,189.1 59.1,185.7 64.2,182.6 69.2,179.6 74.3,176.9 79.3,174.4 84.4,172.1 89.4,169.9 94.4,167.9 99.5,166.1 104.5,164.3 109.6,162.5 114.6,160.8 119.7,159.1 124.7,157.3 129.7,155.5 134.8,153.6 139.8,151.7 144.9,149.7 149.9,147.5 155.0,145.2 160.0,142.7 165.0,140.2 170.1,137.9 175.1,135.9 180.2,134.8 185.2,134.3 190.3,133.7 195.3,133.1 200.3,132.8 205.4,132.4 210.4,132.1 215.5,131.9 220.5,131.7 225.6,131.6 230.6,131.5 235.6,131.4 240.7,131.3 245.7,131.3 250.8,131.2 255.8,131.1 260.9,131.0 265.9,130.9"/>
<polyline stroke="#2297E6" points="54.1,124.5 59.1,124.8 64.2,125.2 69.2,125.7 74.3,126.2 79.3,126.8 84.4,127.3 89.4,127.9 94.4,128.5 99.5,129.0 104.5,129.6 109.6,130.0 114.6,130.3 119.7,130.7 124.7,130.9 129.7,130.9"/>
<polyline stroke="#28E2E5" points="54.1,105.9 59.1,107.8 64.2,110.0 69.2,112.5 74.3,115.1 79.3,117.6 84.4,119.9 89.4,121.7 94.4,123.2 99.5,124.2 104.5,124.8 109.6,125.2 114.6,125.3 119.7,125.5 124.7,125.8 129.7,126.2 134.8,126.9 139.8,128.0 144.9,129.2 149.9,130.2 155.0,130.8 160.0,130.9 165.0,130.9"/>
<polyline stroke="#CD0BBC" points="54.1,121.1 59.1,122.2 64.2,123.3 69.2,124.3 74.3,125.2 79.3,126.0 84.4,126.8 89.4,127.4 94.4,128.0 99.5,128.5 104.5,128.9 109.6,129.3 114.6,129.6 119.7,129.9 124.7,130.3 129.7,130.7 134.8,130.9 139.8,130.9"/>
<polyline stroke="#000000" points="54.1,139.5 59.1,139.5 64.2,139.5 69.2,139.5 74.3,139.4 79.3,139.2 84.4,139.0 89.4,138.7 94.4,138.4 99.5,137.9 104.5,137.5 109.6,136.9 114.6,136.4 119.7,135.8 124.7,135.1 129.7,134.4 134.8,133.7 139.8,132.9 144.9,132.2 149.9,131.5 155.0,130.9 160.0,130.9"/>
<polyline stroke="#DF536B" points="54.1,149.6 59.1,146.8 64.2,143.6 69.2,140.5 74.3,137.7 79.3,135.4 84.4,133.8 89.4,132.7 94.4,132.2 99.5,132.0 104.5,131.9 109.6,131.6 114.6,131.1 119.7,130.1 124.7,128.7 129.7,126.9 134.8,124.8 139.8,122.8 144.9,121.2 149.9,120.0 155.0,120.1 160.0,121.5 165.0,122.5 170.1,124.8 175.1,126.9 180.2,128.8 185.2,130.3 190.3,130.9 195.3,130.9"/>
<polyline stroke="#61D04F" points="54.1,137.9 59.1,137.7 64.2,137.4 69.2,137.1 74.3,136.8 79.3,136.4 84.4,136.1 89.4,135.7 94.4,135.2 99.5,134.8 104.5,134.4 109.6,134.0 114.6,133.5 119.7,133.1 124.7,132.7 129.7,132.3 134.8,132.0 139.8,131.7 144.9,131.5 149.9,131.3 155.0,131.0 160.0,130.9 165.0,130.9"/>
<polyline stroke="#2297E6" points="54.1,121.0 59.1,121.6 64.2,122.1 69.2,122.7 74.3,123.1 79.3,123.4 84.4,123.7 89.4,123.9 94.4,124.0 99.5,124.2 104.5,124.3 109.6,124.5 114.6,124.7 119.7,125.0 124.7,125.4 129.7,125.9 134.8,126.6 139.8,127.4 144.9,128.4 149.9,129.4 155.0,130.4 160.0,130.9 165.0,130.9"/>
<polyline stroke="#28E2E5" points="54.1,76.6 59.1,77.7 64.2,78.8 69.2,80.0 74.3,81.3 79.3,82.7 84.4,84.2 89.4,86.0 94.4,87.8 99.5,89.8 104.5,91.9 109.6,94.2 114.6,96.6 119.7,99.0 124.7,101.6 129.7,104.1 134.8,106.7 139.8,109.2 144.9,111.8 149.9,114.2 155.0,116.6 160.0,118.8 165.0,120.9 170.1,122.9 175.1,124.5 180.2,125.9 185.2,127.2 190.3,128.4 195.3,129.6 200.3,130.7 205.4,130.9 210.4,130.9"/>
<polyline stroke="#CD0BBC" points="54.1,150.3 59.1,146.9 64.2,143.6 69.2,140.8 74.3,138.5 79.3,136.8 84.4,135.7 89.4,135.0 94.4,134.6 99.5,134.2 104.5,133.8 109.6,133.1 114.6,132.0 119.7,131.1 124.7,130.9 129.7,130.9"/>
<polyline stroke="#000000" points="54.1,183.1 59.1,182.5 64.2,181.7 69.2,180.6 74.3,179.1 79.3,177.3 84.4,175.1 89.4,172.7 94.4,170.0 99.5,167.1 104.5,164.1 109.6,161.1 114.6,158.2 119.7,155.5 124.7,152.9 129.7,150.6 134.8,148.5 139.8,146.7 144.9,145.1 149.9,143.8 155.0,142.5 160.0,141.4 165.0,140.2 170.1,139.1 175.1,137.6 180.2,135.8 185.2,133.8 190.3,131.7 195.3,130.9 200.3,130.9"/>
<polyline stroke="#DF536B" points="54.1,181.7 59.1,179.9 64.2,178.7 69.2,177.9 74.3,177.3 79.3,176.8 84.4,175.9 89.4,174.7 94.4,173.0 99.5,170.7 104.5,167.9 109.6,164.6 114.6,161.0 119.7,157.3 124.7,153.5 129.7,150.0 134.8,146.7 139.8,143.9 144.9,141.7 149.9,139.6 155.0,137.2 160.0,135.0 165.0,134.6 170.1,134.2 175.1,133.9 180.2,133.6 185.2,132.7 190.3,131.9 195.3,131.4 200.3,131.0 205.4,130.9 210.4,130.9"/>
<polyline stroke="#61D04F" points="54.1,123.1 59.1,123.8 64.2,124.5 69.2,125.1 74.3,125.7 79.3,126.3 84.4,126.9 89.4,127.5 94.4,128.1 99.5,128.7 104.5,129.3 109.6,130.0 114.6,130.8 119.7,130.9 124.7,130.9"/>
<polyline stroke="#2297E6" points="54.1,200.6 59.1,198.9 64.2,197.1 69.2,195.1 74.3,192.8 79.3,190.2 84.4,187.3 89.4,184.1 94.4,180.8 99.5,177.2 104.5,173.5 109.6,169.7 114.6,165.9 119.7,162.2 124.7,158.6 129.7,155.3 134.8,152.2 139.8,149.3 144.9,146.8 149.9,144.5 155.0,142.4 160.0,140.5 165.0,138.9 170.1,137.4 175.1,135.8 180.2,134.0 185.2,132.3 190.3,130.9 195.3,130.9"/>
<polyline stroke="#28E2E5" points="54.1,164.1 59.1,163.0 64.2,161.2 69.2,158.5 74.3,155.3 79.3,151.7 84.4,147.9 89.4,144.3 94.4,141.0 99.5,138.2 104.5,136.0 109.6,134.2 114.6,132.8 119.7,131.6 124.7,130.4 129.7,129.0 134.8,127.1 139.8,124.5 144.9,121.6 149.9,118.5 155.0,118.3 160.0,119.9 165.0,121.1 170.1,122.2 175.1,123.0 180.2,123.8 185.2,124.8 190.3,125.9 195.3,126.9 200.3,128.0 205.4,129.2 210.4,130.1 215.5,130.7 220.5,130.9 225.6,130.9"/>
<polyline stroke="#CD0BBC" points="54.1,135.9 59.1,135.5 64.2,135.2 69.2,134.7 74.3,134.3 79.3,133.7 84.4,133.1 89.4,132.4 94.4,131.7 99.5,130.9 104.5,130.9"/>
<polyline stroke="#000000" points="54.1,176.6 59.1,176.1 64.2,175.6 69.2,175.0 74.3,174.3 79.3,173.5 84.4,172.4 89.4,171.1 94.4,169.6 99.5,167.7 104.5,165.6 109.6,163.2 114.6,160.6 119.7,157.7 124.7,154.7 129.7,151.6 134.8,148.4 139.8,145.3 144.9,142.1 149.9,139.2 155.0,136.4 160.0,133.7 165.0,131.1 170.1,131.0 175.1,131.0 180.2,131.0 185.2,131.0 190.3,131.0 195.3,131.0 200.3,131.0 205.4,131.0 210.4,131.0 215.5,131.0 220.5,130.9 225.6,130.9"/>
<polyline stroke="#CD0BBC" points="54.1,34.3 59.1,37.6 64.2,41.0 69.2,44.5 74.3,48.1 79.3,51.8 84.4,55.4 89.4,59.0 94.4,62.7 99.5,66.5 104.5,70.1 109.6,74.0 114.6,79.5 119.7,87.0 124.7,94.3 129.7,104.0 134.8,109.1 139.8,113.6 144.9,119.3 149.9,124.2 155.0,127.5 160.0,129.6 165.0,130.7 170.1,130.9 175.1,130.9"/>
<polyline stroke="#61D04F" points="54.1,169.4 59.1,167.5 64.2,165.8 69.2,164.3 74.3,162.9 79.3,161.6 84.4,160.3 89.4,159.0 94.4,157.6 99.5,156.2 104.5,154.7 109.6,153.1 114.6,151.3 119.7,149.5 124.7,147.6 129.7,145.6 134.8,143.6 139.8,141.6 144.9,139.7 149.9,137.8 155.0,136.1 160.0,134.6 165.0,133.3 170.1,132.4 175.1,131.8 180.2,131.4 185.2,131.3 190.3,131.3 195.3,131.2 200.3,131.1 205.4,131.1 210.4,131.1 215.5,131.0 220.5,131.0 225.6,131.0 230.6,131.0 235.6,131.0 240.7,130.9"/>
<polyline stroke="#2297E6" points="54.1,187.0 59.1,183.2 64.2,179.6 69.2,176.2 74.3,173.0 79.3,170.1 84.4,167.6 89.4,165.5 94.4,163.7 99.5,162.3 104.5,161.0 109.6,160.0 114.6,159.0 119.7,158.1 124.7,157.1 129.7,156.0 134.8,154.7 139.8,153.2 144.9,151.5 149.9,149.6 155.0,147.5 160.0,145.0 165.0,142.6 170.1,140.3 175.1,138.3 180.2,136.5 185.2,135.3 190.3,134.6 195.3,133.8 200.3,133.4 205.4,132.9 210.4,132.2 215.5,131.7 220.5,131.3 225.6,131.0 230.6,130.9 235.6,130.9"/>
<polyline stroke="#28E2E5" points="54.1,130.9 59.1,131.0 64.2,131.0 69.2,130.9 74.3,130.7 79.3,130.6 84.4,130.4 89.4,130.3 94.4,130.2 99.5,130.2 104.5,130.3 109.6,130.4 114.6,130.5 119.7,130.7 124.7,130.8 129.7,131.0 134.8,131.0 139.8,131.0 144.9,131.0 149.9,130.9 155.0,130.9"/>
<polyline stroke="#CD0BBC" points="54.1,187.0 59.1,185.5 64.2,184.9 69.2,184.9 74.3,185.1 79.3,185.2 84.4,184.9 89.4,183.8 94.4,181.7 99.5,179.0 104.5,175.7 109.6,172.2 114.6,168.4 119.7,164.7 124.7,161.2 129.7,158.2 134.8,155.7 139.8,153.6 144.9,151.7 149.9,150.0 155.0,147.9 160.0,145.2 165.0,142.2 170.1,138.8 175.1,137.4 180.2,136.7 185.2,135.9 190.3,135.1 195.3,134.2 200.3,133.7 205.4,133.2 210.4,132.7 215.5,132.4 220.5,132.1 225.6,132.0 230.6,131.8 235.6,131.6 240.7,131.6 245.7,131.5 250.8,131.4 255.8,131.2 260.9,131.1 265.9,131.0 270.9,130.9"/>
<polyline stroke="#000000" points="54.1,131.4 59.1,131.2 64.2,131.1 69.2,130.9 74.3,130.9 79.3,130.8 84.4,130.8 89.4,130.8 94.4,130.8 99.5,130.9 104.5,130.9 109.6,130.9"/>
<polyline stroke="#DF536B" points="54.1,141.8 59.1,140.7 64.2,139.6 69.2,138.5 74.3,137.5 79.3,136.5 84.4,135.6 89.4,134.7 94.4,133.9 99.5,133.2 104.5,132.5 109.6,132.0 114.6,131.5 119.7,131.1 124.7,130.8 129.7,130.7 134.8,130.8 139.8,130.8 144.9,130.9 149.9,130.9"/>
<polyline stroke="#61D04F" points="54.1,105.8 59.1,106.9 64.2,108.0 69.2,109.4 74.3,111.0 79.3,112.9 84.4,115.1 89.4,117.5 94.4,119.9 99.5,122.2 104.5,124.4 109.6,126.3 114.6,127.8 119.7,128.9 124.7,129.3 129.7,129.4 134.8,129.4 139.8,129.6 144.9,129.8 149.9,129.9 155.0,130.1 160.0,130.2 165.0,130.3 170.1,130.5 175.1,130.6 180.2,130.8 185.2,130.9 190.3,130.9"/>
<polyline stroke="#2297E6" points="54.1,98.0 59.1,100.8 64.2,103.3 69.2,105.3 74.3,106.8 79.3,108.0 84.4,108.9 89.4,109.6 94.4,110.3 99.5,111.2 104.5,112.3 109.6,113.8 114.6,115.8 119.7,118.3 124.7,121.5 129.7,125.1 134.8,128.5 139.8,130.9 144.9,130.9"/>
<polyline stroke="#28E2E5" points="54.1,166.5 59.1,164.8 64.2,163.3 69.2,162.0 74.3,161.0 79.3,160.1 84.4,159.5 89.4,158.9 94.4,158.5 99.5,158.0 104.5,157.5 109.6,156.9 114.6,156.0 119.7,155.0 124.7,153.5 129.7,151.8 134.8,150.1 139.8,148.6 144.9,146.3 149.9,144.4 155.0,142.5 160.0,141.0 165.0,139.9 170.1,137.6 175.1,135.3 180.2,133.3 185.2,131.6 190.3,130.9 195.3,130.9"/>
<polyline stroke="#CD0BBC" points="54.1,121.7 59.1,122.7 64.2,123.6 69.2,124.2 74.3,124.5 79.3,124.6 84.4,124.5 89.4,124.3 94.4,124.2 99.5,124.2 104.5,124.3 109.6,124.7 114.6,125.3 119.7,126.1 124.7,127.0 129.7,128.0 134.8,128.9 139.8,129.6 144.9,130.2 149.9,130.7 155.0,130.9 160.0,130.9"/>
<polyline stroke="#000000" points="54.1,108.5 59.1,108.7 64.2,108.9 69.2,109.0 74.3,109.1 79.3,109.2 84.4,109.3 89.4,109.4 94.4,109.6 99.5,109.8 104.5,110.1 109.6,110.5 114.6,111.0 119.7,111.6 124.7,112.4 129.7,113.4 134.8,114.5 139.8,116.3 144.9,118.2 149.9,119.8 155.0,121.4 160.0,123.3 165.0,125.9 170.1,128.1 175.1,129.8 180.2,130.9 185.2,130.9"/>
<polyline stroke="#DF536B" points="54.1,126.7 59.1,127.4 64.2,128.1 69.2,128.6 74.3,128.9 79.3,129.0 84.4,129.1 89.4,129.0 94.4,128.9 99.5,128.8 104.5,128.8 109.6,128.9 114.6,129.0 119.7,129.3 124.7,129.7 129.7,130.1 134.8,130.5 139.8,130.8 144.9,130.9 149.9,130.9"/>
<polyline stroke="#61D04F" points="54.1,133.4 59.1,132.7 64.2,131.8 69.2,130.9 74.3,130.9"/>
<polyline stroke="#2297E6" points="54.1,133.1 59.1,132.7 64.2,132.3 69.2,131.8 74.3,131.4 79.3,131.0 84.4,130.9 89.4,130.9"/>
<polyline stroke="#28E2E5" points="54.1,130.3 59.1,130.6 64.2,130.9 69.2,131.1 74.3,131.2 79.3,131.2 84.4,131.2 89.4,131.1 94.4,131.0 99.5,130.9 104.5,130.9 109.6,130.9 114.6,130.9"/>
<polyline stroke="#CD0BBC" points="54.1,165.1 59.1,163.1 64.2,160.8 69.2,158.2 74.3,155.4 79.3,152.5 84.4,149.6 89.4,146.7 94.4,143.9 99.5,141.3 104.5,138.9 109.6,136.7 114.6,134.8 119.7,133.2 124.7,131.8 129.7,130.6 134.8,129.5 139.8,128.6 144.9,127.6 149.9,126.4 155.0,124.9 160.0,124.4 165.0,125.1 170.1,125.8 175.1,126.9 180.2,128.3 185.2,129.6 190.3,130.5 195.3,130.9 200.3,130.9"/>
<polyline stroke="#000000" points="54.1,136.6 59.1,136.2 64.2,135.6 69.2,134.9 74.3,134.1 79.3,133.3 84.4,132.6 89.4,132.0 94.4,131.6 99.5,131.4 104.5,131.3 109.6,131.1 114.6,130.9 119.7,130.9"/>
<polyline stroke="#DF536B" points="54.1,81.2 59.1,86.0 64.2,90.6 69.2,94.9 74.3,98.6 79.3,101.8 84.4,104.3 89.4,106.2 94.4,107.5 99.5,108.5 104.5,109.3 109.6,110.1 114.6,110.9 119.7,112.1 124.7,113.6 129.7,115.4 134.8,117.6 139.8,120.0 144.9,122.5 149.9,125.0 155.0,127.3 160.0,129.1 165.0,130.5 170.1,131.5 175.1,132.5 180.2,132.5 185.2,132.3 190.3,132.0 195.3,131.8 200.3,131.7 205.4,131.5 210.4,131.3 215.5,131.2 220.5,131.0 225.6,131.0 230.6,130.9 235.6,130.9"/>
<polyline stroke="#61D04F" points="54.1,130.3 59.1,133.0 64.2,135.8 69.2,138.6 74.3,141.3 79.3,143.6 84.4,145.5 89.4,147.0 94.4,147.9 99.5,148.5 104.5,148.8 109.6,148.9 114.6,148.9 119.7,149.0 124.7,149.3 129.7,149.9 134.8,150.5 139.8,150.8 144.9,150.0 149.9,147.6 155.0,145.2 160.0,142.6 165.0,138.7 170.1,135.4 175.1,132.9 180.2,130.9 185.2,130.9"/>
<polyline stroke="#2297E6" points="54.1,68.6 59.1,71.7 64.2,75.1 69.2,78.6 74.3,82.2 79.3,85.7 84.4,89.0 89.4,92.2 94.4,95.2 99.5,97.9 104.5,100.3 109.6,102.5 114.6,104.4 119.7,106.2 124.7,107.9 129.7,109.5 134.8,111.1 139.8,112.7 144.9,114.5 149.9,116.5 155.0,118.7 160.0,121.4 165.0,124.2 170.1,127.0 175.1,129.6 180.2,130.9 185.2,130.9 190.3,130.9 195.3,130.9 200.3,130.9"/>
<polyline stroke="#28E2E5" points="54.1,190.1 59.1,188.8 64.2,187.1 69.2,185.0 74.3,182.4 79.3,179.4 84.4,176.1 89.4,172.6 94.4,169.0 99.5,165.4 104.5,162.0 109.6,158.9 114.6,156.1 119.7,153.7 124.7,151.7 129.7,150.1 134.8,148.8 139.8,147.7 144.9,146.7 149.9,145.8 155.0,144.8 160.0,143.7 165.0,142.5 170.1,140.9 175.1,138.8 180.2,136.7 185.2,134.6 190.3,132.7 195.3,130.9 200.3,130.3 205.4,130.4 210.4,130.5 215.5,130.6 220.5,130.7 225.6,130.7 230.6,130.7 235.6,130.8 240.7,130.8 245.7,130.8 250.8,130.8 255.8,130.8 260.9,130.8 265.9,130.9 270.9,130.9 276.0,130.9 281.0,130.9 286.1,130.9 291.1,130.9"/>
<polyline stroke="#CD0BBC" points="54.1,135.3 59.1,134.7 64.2,134.2 69.2,133.9 74.3,133.6 79.3,133.5 84.4,133.4 89.4,133.4 94.4,133.4 99.5,133.4 104.5,133.4 109.6,133.4 114.6,133.3 119.7,133.1 124.7,132.9 129.7,132.6 134.8,132.3 139.8,131.8 144.9,131.4 149.9,131.2 155.0,130.9 160.0,130.9"/>
<polyline stroke="#000000" points="54.1,135.2 59.1,134.4 64.2,133.9 69.2,133.6 74.3,133.5 79.3,133.5 84.4,133.6 89.4,133.6 94.4,133.5 99.5,133.3 104.5,132.9 109.6,132.5 114.6,131.9 119.7,131.3 124.7,130.8 129.7,130.4 134.8,130.1 139.8,130.0 144.9,130.0 149.9,130.2 155.0,130.4 160.0,130.7 165.0,130.8 170.1,130.9 175.1,130.9 180.2,130.9"/>
<polyline stroke="#DF536B" points="54.1,129.1 59.1,129.0 64.2,128.8 69.2,128.7 74.3,128.7 79.3,128.8 84.4,128.9 89.4,129.2 94.4,129.6 99.5,130.0 104.5,130.4 109.6,130.7 114.6,131.0 119.7,131.0 124.7,131.0 129.7,130.9 134.8,130.9"/>
<polyline stroke="#61D04F" points="54.1,113.1 59.1,113.7 64.2,114.2 69.2,114.6 74.3,114.9 79.3,115.1 84.4,115.5 89.4,115.9 94.4,116.6 99.5,117.5 104.5,118.7 109.6,120.2 114.6,122.0 119.7,124.2 124.7,126.7 129.7,129.0 134.8,130.7 139.8,130.7 144.9,130.7 149.9,130.8 155.0,130.8 160.0,130.8 165.0,130.8 170.1,130.8 175.1,130.8 180.2,130.8 185.2,130.9 190.3,130.9 195.3,130.9 200.3,130.9 205.4,130.9 210.4,130.9 215.5,130.9 220.5,130.9 225.6,130.9"/>
<polyline stroke="#2297E6" points="54.1,123.8 59.1,124.6 64.2,125.5 69.2,126.3 74.3,127.1 79.3,127.8 84.4,128.3 89.4,128.7 94.4,129.0 99.5,129.3 104.5,129.5 109.6,129.9 114.6,130.4 119.7,131.0 124.7,132.0 129.7,133.2 134.8,134.5 139.8,135.1 144.9,134.5 149.9,134.1 155.0,133.6 160.0,133.3 165.0,133.0 170.1,132.8 175.1,132.6 180.2,132.4 185.2,131.9 190.3,131.5 195.3,131.2 200.3,131.0 205.4,130.9 210.4,130.9"/>
<polyline stroke="#28E2E5" points="54.1,164.5 59.1,162.2 64.2,159.7 69.2,157.1 74.3,154.5 79.3,152.0 84.4,149.6 89.4,147.4 94.4,145.5 99.5,143.8 104.5,142.4 109.6,141.3 114.6,140.4 119.7,139.7 124.7,139.1 129.7,138.6 134.8,138.1 139.8,137.5 144.9,136.8 149.9,135.7 155.0,134.5 160.0,133.0 165.0,131.6 170.1,130.9 175.1,130.9"/>
<polyline stroke="#CD0BBC" points="54.1,125.4 59.1,124.9 64.2,124.4 69.2,124.0 74.3,123.5 79.3,123.1 84.4,122.7 89.4,122.3 94.4,121.9 99.5,121.6 104.5,121.3 109.6,121.2 114.6,121.3 119.7,122.4 124.7,123.2 129.7,123.9 134.8,124.7 139.8,125.4 144.9,126.1 149.9,126.7 155.0,127.3 160.0,127.8 165.0,128.1 170.1,128.5 175.1,128.7 180.2,128.9 185.2,129.4 190.3,130.0 195.3,130.5 200.3,130.8 205.4,130.9 210.4,130.9"/>
<polyline stroke="#000000" points="54.1,133.4 59.1,132.8 64.2,132.3 69.2,131.9 74.3,131.6 79.3,131.4 84.4,131.3 89.4,131.3 94.4,131.3 99.5,131.4 104.5,131.4 109.6,131.4 114.6,131.4 119.7,131.3 124.7,131.1 129.7,131.0 134.8,130.9 139.8,130.9"/>
<polyline stroke="#DF536B" points="54.1,188.3 59.1,185.1 64.2,181.6 69.2,177.7 74.3,173.7 79.3,169.7 84.4,165.7 89.4,162.0 94.4,158.5 99.5,155.5 104.5,153.0 109.6,150.9 114.6,149.3 119.7,148.0 124.7,147.0 129.7,146.2 134.8,145.5 139.8,144.8 144.9,144.0 149.9,143.1 155.0,141.9 160.0,140.6 165.0,139.0 170.1,137.0 175.1,135.1 180.2,133.3 185.2,131.9 190.3,130.6 195.3,130.1 200.3,130.2 205.4,130.4 210.4,130.5 215.5,130.5 220.5,130.6 225.6,130.7 230.6,130.7 235.6,130.8 240.7,130.8 245.7,130.8 250.8,130.8 255.8,130.9 260.9,130.9 265.9,130.9"/>
<polyline stroke="#61D04F" points="54.1,101.6 59.1,104.0 64.2,106.4 69.2,108.9 74.3,111.1 79.3,112.9 84.4,114.3 89.4,115.3 94.4,116.0 99.5,116.3 104.5,116.6 109.6,116.8 114.6,117.1 119.7,117.7 124.7,118.5 129.7,119.6 134.8,121.1 139.8,122.5 144.9,123.7 149.9,124.5 155.0,125.4 160.0,126.1 165.0,126.7 170.1,127.3 175.1,128.4 180.2,129.4 185.2,130.3 190.3,130.9 195.3,130.9"/>
<polyline stroke="#2297E6" points="54.1,167.4 59.1,166.4 64.2,166.0 69.2,165.8 74.3,165.4 79.3,164.4 84.4,162.8 89.4,160.4 94.4,157.3 99.5,153.8 104.5,150.2 109.6,146.7 114.6,143.8 119.7,141.5 124.7,139.9 129.7,139.1 134.8,138.7 139.8,138.6 144.9,138.5 149.9,138.1 155.0,137.2 160.0,136.1 165.0,135.1 170.1,134.5 175.1,134.1 180.2,133.8 185.2,133.4 190.3,133.0 195.3,132.6 200.3,132.3 205.4,132.0 210.4,131.8 215.5,131.7 220.5,131.5 225.6,131.4 230.6,131.3 235.6,131.3 240.7,131.2 245.7,131.1 250.8,131.0 255.8,130.9"/>
<polyline stroke="#28E2E5" points="54.1,108.5 59.1,108.5 64.2,107.7 69.2,106.6 74.3,105.3 79.3,104.2 84.4,103.6 89.4,103.7 94.4,104.5 99.5,106.0 104.5,108.1 109.6,110.6 114.6,113.1 119.7,115.5 124.7,117.6 129.7,119.3 134.8,120.7 139.8,121.8 144.9,122.8 149.9,123.9 155.0,125.5 160.0,127.6 165.0,129.8 170.1,130.9 175.1,130.9"/>
<polyline stroke="#CD0BBC" points="54.1,199.2 59.1,196.8 64.2,194.1 69.2,191.0 74.3,187.5 79.3,183.8 84.4,179.9 89.4,175.8 94.4,171.8 99.5,167.9 104.5,164.2 109.6,160.8 114.6,157.7 119.7,155.0 124.7,152.7 129.7,150.8 134.8,149.1 139.8,147.7 144.9,146.4 149.9,145.1 155.0,143.9 160.0,142.6 165.0,141.2 170.1,139.4 175.1,137.3 180.2,135.3 185.2,133.4 190.3,131.7 195.3,130.9 200.3,130.9"/>
<polyline stroke="#000000" points="54.1,143.8 59.1,143.3 64.2,142.8 69.2,142.3 74.3,141.9 79.3,141.5 84.4,141.1 89.4,140.7 94.4,140.3 99.5,140.0 104.5,139.7 109.6,139.3 114.6,139.0 119.7,138.6 124.7,138.3 129.7,137.8 134.8,137.3 139.8,136.8 144.9,136.2 149.9,135.5 155.0,134.6 160.0,133.7 165.0,132.6 170.1,131.6 175.1,130.9 180.2,130.9"/>
<polyline stroke="#DF536B" points="54.1,173.9 59.1,170.2 64.2,166.6 69.2,163.3 74.3,160.3 79.3,157.6 84.4,155.2 89.4,153.0 94.4,151.2 99.5,149.5 104.5,148.1 109.6,146.9 114.6,145.8 119.7,144.9 124.7,144.0 129.7,143.2 134.8,142.3 139.8,141.4 144.9,140.4 149.9,139.5 155.0,138.3 160.0,137.3 165.0,136.7 170.1,136.0 175.1,135.5 180.2,135.0 185.2,134.5 190.3,133.9 195.3,133.1 200.3,132.3 205.4,131.6 210.4,131.2 215.5,130.9 220.5,130.9"/>
<polyline stroke="#61D04F" points="54.1,70.0 59.1,71.9 64.2,74.2 69.2,77.0 74.3,80.2 79.3,83.5 84.4,86.9 89.4,90.3 94.4,93.4 99.5,96.3 104.5,98.8 109.6,101.0 114.6,102.8 119.7,104.4 124.7,105.8 129.7,107.1 134.8,108.5 139.8,109.9 144.9,111.6 149.9,113.5 155.0,115.7 160.0,118.6 165.0,121.7 170.1,124.7 175.1,127.6 180.2,130.1 185.2,130.3 190.3,130.4 195.3,130.5 200.3,130.6 205.4,130.6 210.4,130.7 215.5,130.7 220.5,130.8 225.6,130.8 230.6,130.8 235.6,130.9 240.7,130.9 245.7,130.9 250.8,130.9"/>
<polyline stroke="#2297E6" points="54.1,123.4 59.1,123.7 64.2,123.9 69.2,124.0 74.3,123.9 79.3,123.9 84.4,123.8 89.4,123.9 94.4,124.1 99.5,124.5 104.5,125.0 109.6,125.8 114.6,126.7 119.7,127.8 124.7,129.0 129.7,130.1 134.8,130.9 139.8,130.9"/>
<polyline stroke="#28E2E5" points="54.1,155.3 59.1,152.2 64.2,149.2 69.2,146.2 74.3,143.3 79.3,140.6 84.4,138.0 89.4,135.6 94.4,133.4 99.5,131.4 104.5,129.6 109.6,127.9 114.6,126.4 119.7,125.0 124.7,123.7 129.7,122.4 134.8,121.2 139.8,120.0 144.9,118.4 149.9,116.9 155.0,117.9 160.0,119.5 165.0,120.8 170.1,122.0 175.1,122.8 180.2,123.6 185.2,124.6 190.3,125.7 195.3,126.8 200.3,127.4 205.4,128.1 210.4,128.6 215.5,129.5 220.5,130.1 225.6,130.6 230.6,130.9 235.6,130.9 240.7,130.9"/>
<polyline stroke="#CD0BBC" points="54.1,80.8 59.1,84.4 64.2,87.5 69.2,90.0 74.3,92.0 79.3,93.7 84.4,95.1 89.4,96.3 94.4,97.5 99.5,98.9 104.5,100.6 109.6,102.5 114.6,104.8 119.7,107.4 124.7,110.3 129.7,113.3 134.8,116.5 139.8,119.5 144.9,121.9 149.9,123.9 155.0,125.0 160.0,125.7 165.0,126.3 170.1,126.8 175.1,127.2 180.2,127.6 185.2,128.0 190.3,128.5 195.3,129.0 200.3,129.7 205.4,130.2 210.4,130.6 215.5,130.9 220.5,130.9 225.6,130.9"/>
<polyline stroke="#000000" points="54.1,82.0 59.1,83.7 64.2,85.3 69.2,86.9 74.3,88.3 79.3,89.7 84.4,91.1 89.4,92.4 94.4,93.8 99.5,95.2 104.5,96.8 109.6,98.6 114.6,100.6 119.7,103.0 124.7,105.6 129.7,108.9 134.8,112.6 139.8,116.4 144.9,119.1 149.9,120.6 155.0,122.1 160.0,123.2 165.0,124.0 170.1,124.8 175.1,125.4 180.2,126.0 185.2,126.6 190.3,127.4 195.3,128.1 200.3,128.6 205.4,129.0 210.4,129.4 215.5,129.6 220.5,129.9 225.6,130.1 230.6,130.2 235.6,130.3 240.7,130.4 245.7,130.5 250.8,130.6 255.8,130.7 260.9,130.8 265.9,130.9 270.9,130.9"/>
<polyline stroke="#DF536B" points="54.1,208.4 59.1,203.6 64.2,198.2 69.2,192.7 74.3,187.2 79.3,181.9 84.4,176.8 89.4,172.1 94.4,167.7 99.5,163.6 104.5,159.8 109.6,156.3 114.6,153.0 119.7,149.9 124.7,146.8 129.7,143.7 134.8,140.6 139.8,137.1 144.9,133.5 149.9,131.4 155.0,131.4 160.0,131.3 165.0,131.3 170.1,131.2 175.1,131.2 180.2,131.2 185.2,131.1 190.3,131.0 195.3,131.0 200.3,130.9 205.4,130.9"/>
<polyline stroke="#61D04F" points="54.1,196.0 59.1,192.6 64.2,189.3 69.2,186.0 74.3,182.8 79.3,179.7 84.4,176.7 89.4,173.9 94.4,171.1 99.5,168.5 104.5,166.0 109.6,163.6 114.6,161.3 119.7,159.1 124.7,156.9 129.7,154.8 134.8,152.8 139.8,150.7 144.9,148.7 149.9,146.6 155.0,144.4 160.0,142.2 165.0,139.9 170.1,137.3 175.1,134.7 180.2,132.0 185.2,129.7 190.3,129.8 195.3,130.4 200.3,130.8 205.4,130.9 210.4,130.9"/>
<polyline stroke="#2297E6" points="54.1,84.9 59.1,86.4 64.2,88.8 69.2,91.8 74.3,95.4 79.3,99.4 84.4,103.5 89.4,107.5 94.4,111.3 99.5,114.6 104.5,117.5 109.6,119.9 114.6,121.9 119.7,123.7 124.7,125.3 129.7,127.4 134.8,129.8 139.8,130.9 144.9,130.9 149.9,130.9 155.0,130.9 160.0,130.9 165.0,130.9 170.1,130.9 175.1,130.9 180.2,130.9 185.2,130.9 190.3,130.9 195.3,130.9 200.3,130.9"/>
<polyline stroke="#28E2E5" points="54.1,120.5 59.1,123.9 64.2,126.6 69.2,128.7 74.3,130.2 79.3,130.9 84.4,130.9"/>
<polyline stroke="#CD0BBC" points="54.1,163.5 59.1,163.5 64.2,163.3 69.2,162.9 74.3,162.3 79.3,161.5 84.4,160.6 89.4,159.5 94.4,158.3 99.5,157.0 104.5,155.6 109.6,154.2 114.6,152.7 119.7,151.2 124.7,149.8 129.7,148.3 134.8,146.9 139.8,145.8 144.9,144.6 149.9,143.5 155.0,142.2 160.0,140.8 165.0,139.7 170.1,138.7 175.1,138.0 180.2,137.2 185.2,136.4 190.3,135.4 195.3,134.5 200.3,133.4 205.4,132.3 210.4,131.6 215.5,131.1 220.5,130.9 225.6,130.9"/>
<polyline stroke="#000000" points="54.1,181.6 59.1,179.1 64.2,176.2 69.2,173.1 74.3,170.1 79.3,167.3 84.4,164.9 89.4,162.9 94.4,161.5 99.5,160.4 104.5,159.5 109.6,158.7 114.6,157.6 119.7,156.2 124.7,154.4 129.7,152.1 134.8,149.8 139.8,147.5 144.9,145.4 149.9,143.6 155.0,141.8 160.0,140.4 165.0,139.4 170.1,138.4 175.1,137.7 180.2,137.0 185.2,136.2 190.3,135.3 195.3,134.4 200.3,133.8 205.4,133.3 210.4,132.8 215.5,132.2 220.5,131.6 225.6,131.3 230.6,131.0 235.6,130.9 240.7,130.9"/>
<polyline stroke="#DF536B" points="54.1,129.4 59.1,129.5 64.2,129.6 69.2,129.6 74.3,129.6 79.3,129.7 84.4,129.7 89.4,129.7 94.4,129.8 99.5,129.9 104.5,130.0 109.6,130.2 114.6,130.4 119.7,130.7 124.7,130.9 129.7,130.9 134.8,130.9"/>
<polyline stroke="#61D04F" points="54.1,178.4 59.1,176.2 64.2,174.2 69.2,172.7 74.3,171.5 79.3,170.6 84.4,169.9 89.4,169.4 94.4,169.0 99.5,168.4 104.5,167.7 109.6,166.9 114.6,165.6 119.7,164.0 124.7,162.5 129.7,160.5 134.8,157.3 139.8,154.1 144.9,151.2 149.9,148.6 155.0,146.0 160.0,144.1 165.0,142.7 170.1,141.3 175.1,140.4 180.2,138.2 185.2,135.4 190.3,133.2 195.3,131.6 200.3,130.9 205.4,130.9"/>
<polyline stroke="#2297E6" points="54.1,99.1 59.1,99.4 64.2,100.1 69.2,101.4 74.3,103.1 79.3,105.1 84.4,107.3 89.4,109.7 94.4,112.0 99.5,114.2 104.5,116.1 109.6,117.8 114.6,119.1 119.7,120.1 124.7,120.9 129.7,121.4 134.8,122.0 139.8,122.5 144.9,123.1 149.9,123.9 155.0,125.2 160.0,126.7 165.0,128.4 170.1,129.9 175.1,130.9 180.2,130.9"/>
<polyline stroke="#28E2E5" points="54.1,160.2 59.1,159.4 64.2,158.5 69.2,157.6 74.3,156.5 79.3,155.4 84.4,154.1 89.4,152.7 94.4,151.3 99.5,149.7 104.5,148.0 109.6,146.3 114.6,144.6 119.7,142.8 124.7,141.0 129.7,139.2 134.8,137.4 139.8,135.7 144.9,134.0 149.9,132.7 155.0,131.5 160.0,130.9 165.0,130.9"/>
<polyline stroke="#CD0BBC" points="54.1,173.9 59.1,170.7 64.2,167.6 69.2,164.7 74.3,162.1 79.3,159.8 84.4,158.0 89.4,156.5 94.4,155.5 99.5,154.8 104.5,154.4 109.6,154.1 114.6,153.8 119.7,153.5 124.7,153.0 129.7,152.3 134.8,151.3 139.8,150.0 144.9,148.4 149.9,146.6 155.0,144.7 160.0,142.4 165.0,140.4 170.1,138.7 175.1,137.3 180.2,136.0 185.2,135.3 190.3,134.5 195.3,133.8 200.3,133.1 205.4,132.2 210.4,131.6 215.5,131.2 220.5,130.9 225.6,130.9"/>
<polyline stroke="#000000" points="54.1,167.1 59.1,165.6 64.2,164.2 69.2,162.9 74.3,161.8 79.3,160.8 84.4,159.8 89.4,158.9 94.4,158.0 99.5,157.1 104.5,156.3 109.6,155.4 114.6,154.5 119.7,153.5 124.7,152.5 129.7,151.4 134.8,150.0 139.8,148.6 144.9,147.4 149.9,145.5 155.0,143.4 160.0,141.8 165.0,140.7 170.1,139.5 175.1,137.6 180.2,135.3 185.2,133.2 190.3,131.6 195.3,130.9 200.3,130.9"/>
<polyline stroke="#DF536B" points="54.1,117.4 59.1,118.9 64.2,120.4 69.2,121.7 74.3,122.7 79.3,123.2 84.4,123.4 89.4,123.3 94.4,123.0 99.5,122.7 104.5,122.5 109.6,122.6 114.6,123.0 119.7,123.6 124.7,124.6 129.7,125.6 134.8,126.7 139.8,127.8 144.9,128.6 149.9,129.3 155.0,129.6 160.0,129.8 165.0,130.1 170.1,130.6 175.1,130.9 180.2,130.9"/>
<polyline stroke="#61D04F" points="54.1,120.8 59.1,120.2 64.2,119.7 69.2,119.3 74.3,119.1 79.3,119.0 84.4,119.1 89.4,119.4 94.4,119.9 99.5,120.5 104.5,121.2 109.6,122.1 114.6,123.0 119.7,123.9 124.7,124.7 129.7,125.6 134.8,126.3 139.8,127.0 144.9,127.7 149.9,128.1 155.0,128.6 160.0,129.2 165.0,130.0 170.1,130.9 175.1,130.9"/>
<polyline stroke="#2297E6" points="54.1,167.2 59.1,165.0 64.2,162.8 69.2,160.7 74.3,158.7 79.3,156.8 84.4,154.9 89.4,153.1 94.4,151.4 99.5,149.7 104.5,148.1 109.6,146.5 114.6,144.9 119.7,143.3 124.7,141.6 129.7,139.9 134.8,138.2 139.8,136.5 144.9,134.3 149.9,131.9 155.0,131.0 160.0,131.0 165.0,131.0 170.1,131.0 175.1,131.0 180.2,131.0 185.2,130.9 190.3,130.9"/>
<polyline stroke="#28E2E5" points="54.1,121.4 59.1,121.6 64.2,121.4 69.2,121.1 74.3,120.5 79.3,120.0 84.4,119.6 89.4,119.4 94.4,119.5 99.5,119.9 104.5,120.6 109.6,121.6 114.6,122.7 119.7,123.8 124.7,124.9 129.7,125.9 134.8,126.8 139.8,127.5 144.9,128.0 149.9,128.3 155.0,128.9 160.0,129.6 165.0,130.5 170.1,130.9 175.1,130.9"/>
<polyline stroke="#CD0BBC" points="54.1,160.6 59.1,157.9 64.2,155.2 69.2,152.6 74.3,150.0 79.3,147.5 84.4,145.1 89.4,142.7 94.4,140.4 99.5,138.3 104.5,136.2 109.6,134.3 114.6,132.7 119.7,131.2 124.7,130.1 129.7,129.2 134.8,128.8 139.8,128.8 144.9,129.1 149.9,129.3 155.0,129.6 160.0,129.7 165.0,129.9 170.1,130.0 175.1,130.1 180.2,130.2 185.2,130.3 190.3,130.4 195.3,130.5 200.3,130.6 205.4,130.6 210.4,130.7 215.5,130.7 220.5,130.8 225.6,130.8 230.6,130.9 235.6,130.9 240.7,130.9"/>
<polyline stroke="#000000" points="54.1,121.8 59.1,122.2 64.2,122.5 69.2,122.8 74.3,123.2 79.3,123.5 84.4,123.9 89.4,124.3 94.4,124.8 99.5,125.4 104.5,125.9 109.6,126.6 114.6,127.3 119.7,128.0 124.7,128.9 129.7,129.8 134.8,130.5 139.8,130.9 144.9,130.9"/>
<polyline stroke="#DF536B" points="54.1,122.7 59.1,123.0 64.2,123.5 69.2,124.2 74.3,124.9 79.3,125.7 84.4,126.5 89.4,127.1 94.4,127.6 99.5,128.0 104.5,128.2 109.6,128.4 114.6,128.5 119.7,128.6 124.7,128.7 129.7,129.1 134.8,129.6 139.8,130.2 144.9,130.8 149.9,130.9 155.0,130.9"/>
<polyline stroke="#61D04F" points="54.1,142.3 59.1,141.8 64.2,141.2 69.2,140.7 74.3,140.1 79.3,139.5 84.4,138.9 89.4,138.2 94.4,137.4 99.5,136.6 104.5,135.8 109.6,134.9 114.6,133.9 119.7,132.7 124.7,131.6 129.7,130.9 134.8,130.9"/>
<polyline stroke="#2297E6" points="54.1,135.2 59.1,135.1 64.2,135.0 69.2,135.0 74.3,134.9 79.3,134.9 84.4,134.9 89.4,134.8 94.4,134.7 99.5,134.7 104.5,134.5 109.6,134.4 114.6,134.2 119.7,133.9 124.7,133.7 129.7,133.4 134.8,133.1 139.8,132.7 144.9,132.4 149.9,132.0 155.0,131.6 160.0,131.3 165.0,131.1 170.1,130.9 175.1,130.9"/>
<polyline stroke="#28E2E5" points="54.1,125.6 59.1,126.7 64.2,127.6 69.2,128.2 74.3,128.7 79.3,128.9 84.4,129.0 89.4,129.0 94.4,129.1 99.5,129.2 104.5,129.4 109.6,129.9 114.6,130.5 119.7,130.9 124.7,130.9"/>
<polyline stroke="#CD0BBC" points="54.1,122.9 59.1,124.3 64.2,125.5 69.2,126.3 74.3,127.0 79.3,127.6 84.4,128.1 89.4,128.7 94.4,129.4 99.5,130.4 104.5,131.6 109.6,133.0 114.6,134.6 119.7,136.4 124.7,138.3 129.7,140.5 134.8,142.6 139.8,144.2 144.9,145.2 149.9,143.4 155.0,141.6 160.0,140.3 165.0,137.3 170.1,134.8 175.1,132.8 180.2,131.2 185.2,130.9 190.3,130.9"/>
<polyline stroke="#2297E6" points="54.1,264.5 59.1,259.2 64.2,253.6 69.2,248.0 74.3,242.4 79.3,236.8 84.4,230.9 89.4,225.0 94.4,219.7 99.5,214.7 104.5,210.0 109.6,205.3 114.6,200.1 119.7,194.2 124.7,187.3 129.7,179.5 134.8,172.4 139.8,165.6 144.9,159.1 149.9,153.1 155.0,149.7 160.0,147.1 165.0,144.9 170.1,143.1 175.1,141.5 180.2,140.0 185.2,138.7 190.3,137.4 195.3,136.2 200.3,135.1 205.4,134.1 210.4,133.4 215.5,132.9 220.5,132.5 225.6,132.2 230.6,132.0 235.6,131.8 240.7,131.6 245.7,131.4 250.8,131.3 255.8,131.2 260.9,131.1 265.9,131.0 270.9,130.9"/>
<polyline stroke="#DF536B" points="54.1,153.2 59.1,151.2 64.2,149.2 69.2,147.3 74.3,145.5 79.3,143.9 84.4,142.4 89.4,141.0 94.4,139.8 99.5,138.7 104.5,137.8 109.6,137.0 114.6,136.3 119.7,135.7 124.7,135.1 129.7,134.7 134.8,134.3 139.8,133.9 144.9,133.5 149.9,133.2 155.0,132.7 160.0,132.2 165.0,131.6 170.1,131.1 175.1,130.9 180.2,130.9"/>
<polyline stroke="#61D04F" points="54.1,149.9 59.1,148.7 64.2,147.6 69.2,146.4 74.3,145.2 79.3,144.0 84.4,142.7 89.4,141.4 94.4,140.1 99.5,138.7 104.5,137.2 109.6,135.7 114.6,134.1 119.7,132.5 124.7,130.9 129.7,129.2 134.8,127.4 139.8,125.4 144.9,123.5 149.9,121.9 155.0,121.1 160.0,122.4 165.0,123.3 170.1,124.2 175.1,124.8 180.2,125.4 185.2,126.2 190.3,127.0 195.3,127.8 200.3,128.4 205.4,129.4 210.4,130.1 215.5,130.6 220.5,130.9 225.6,130.9"/>
<polyline stroke="#2297E6" points="54.1,106.7 59.1,109.1 64.2,111.3 69.2,113.1 74.3,114.6 79.3,115.7 84.4,116.6 89.4,117.3 94.4,117.8 99.5,118.4 104.5,118.9 109.6,119.7 114.6,120.6 119.7,121.7 124.7,123.1 129.7,124.8 134.8,126.7 139.8,128.4 144.9,129.6 149.9,129.8 155.0,130.0 160.0,130.1 165.0,130.2 170.1,130.3 175.1,130.3 180.2,130.4 185.2,130.5 190.3,130.7 195.3,130.8 200.3,130.9 205.4,130.9 210.4,130.9"/>
<polyline stroke="#28E2E5" points="54.1,170.0 59.1,169.0 64.2,167.6 69.2,165.8 74.3,163.6 79.3,161.1 84.4,158.4 89.4,155.6 94.4,152.7 99.5,149.9 104.5,147.2 109.6,144.8 114.6,142.6 119.7,140.6 124.7,138.9 129.7,137.5 134.8,136.2 139.8,135.0 144.9,133.9 149.9,132.9 155.0,131.6 160.0,130.0 165.0,128.1 170.1,126.9 175.1,127.9 180.2,129.3 185.2,130.4 190.3,130.9 195.3,130.9"/>
<polyline stroke="#CD0BBC" points="54.1,174.0 59.1,173.7 64.2,173.0 69.2,172.2 74.3,171.2 79.3,170.0 84.4,168.6 89.4,167.1 94.4,165.6 99.5,163.9 104.5,162.2 109.6,160.5 114.6,158.7 119.7,156.9 124.7,155.1 129.7,153.2 134.8,151.6 139.8,149.9 144.9,147.8 149.9,145.3 155.0,143.2 160.0,141.6 165.0,140.5 170.1,139.4 175.1,138.6 180.2,137.8 185.2,136.9 190.3,135.9 195.3,134.8 200.3,134.2 205.4,133.6 210.4,133.1 215.5,132.3 220.5,131.7 225.6,131.3 230.6,131.0 235.6,130.9 240.7,130.9"/>
<polyline stroke="#000000" points="54.1,210.3 59.1,206.4 64.2,202.2 69.2,197.5 74.3,192.3 79.3,186.8 84.4,181.4 89.4,176.0 94.4,170.7 99.5,165.4 104.5,160.3 109.6,155.4 114.6,150.7 119.7,146.1 124.7,142.1 129.7,138.4 134.8,135.0 139.8,132.8 144.9,132.5 149.9,132.3 155.0,132.1 160.0,132.0 165.0,131.9 170.1,131.8 175.1,131.7 180.2,131.5 185.2,131.3 190.3,131.1 195.3,131.0 200.3,130.9 205.4,130.9"/>
<polyline stroke="#DF536B" points="54.1,156.0 59.1,154.6 64.2,153.6 69.2,152.9 74.3,152.5 79.3,152.2 84.4,152.0 89.4,151.8 94.4,151.6 99.5,151.1 104.5,150.5 109.6,149.5 114.6,148.3 119.7,146.9 124.7,145.2 129.7,143.3 134.8,141.3 139.8,139.2 144.9,137.1 149.9,135.2 155.0,133.6 160.0,132.1 165.0,130.9 170.1,130.9"/>
<polyline stroke="#61D04F" points="54.1,122.3 59.1,122.8 64.2,123.3 69.2,123.8 74.3,124.4 79.3,125.0 84.4,125.7 89.4,126.5 94.4,127.4 99.5,128.3 104.5,129.1 109.6,129.9 114.6,130.5 119.7,130.9 124.7,130.9 129.7,130.9"/>
<polyline stroke="#2297E6" points="54.1,182.8 59.1,180.0 64.2,177.8 69.2,175.9 74.3,174.4 79.3,173.2 84.4,172.1 89.4,171.2 94.4,170.1 99.5,169.0 104.5,167.7 109.6,166.1 114.6,164.2 119.7,162.0 124.7,159.6 129.7,156.9 134.8,154.1 139.8,151.2 144.9,148.4 149.9,145.6 155.0,143.0 160.0,140.6 165.0,138.4 170.1,136.6 175.1,135.4 180.2,134.3 185.2,133.4 190.3,132.4 195.3,131.5 200.3,130.9 205.4,130.9"/>
<polyline stroke="#28E2E5" points="54.1,152.7 59.1,151.2 64.2,149.5 69.2,147.7 74.3,145.9 79.3,144.1 84.4,142.4 89.4,140.7 94.4,139.1 99.5,137.7 104.5,136.4 109.6,135.3 114.6,134.3 119.7,133.4 124.7,132.8 129.7,132.2 134.8,131.4 139.8,130.9 144.9,130.9"/>
<polyline stroke="#CD0BBC" points="54.1,127.9 59.1,128.3 64.2,128.8 69.2,129.3 74.3,129.7 79.3,130.1 84.4,130.3 89.4,130.5 94.4,130.6 99.5,130.6 104.5,130.6 109.6,130.5 114.6,130.5 119.7,130.6 124.7,130.7 129.7,130.9 134.8,130.9"/>
<polyline stroke="#000000" points="54.1,103.9 59.1,104.1 64.2,104.6 69.2,105.5 74.3,106.7 79.3,108.1 84.4,109.8 89.4,111.6 94.4,113.4 99.5,115.0 104.5,116.3 109.6,117.4 114.6,118.3 119.7,118.7 124.7,119.1 129.7,119.5 134.8,120.3 139.8,121.6 144.9,122.8 149.9,123.8 155.0,124.8 160.0,125.6 165.0,126.2 170.1,127.4 175.1,128.6 180.2,129.7 185.2,130.6 190.3,130.9 195.3,130.9"/>
<polyline stroke="#DF536B" points="54.1,98.0 59.1,99.0 64.2,100.0 69.2,101.2 74.3,102.6 79.3,104.2 84.4,106.0 89.4,108.1 94.4,110.4 99.5,112.8 104.5,115.4 109.6,118.0 114.6,120.6 119.7,123.0 124.7,125.3 129.7,127.3 134.8,129.0 139.8,130.4 144.9,131.5 149.9,132.2 155.0,132.5 160.0,132.5 165.0,132.6 170.1,132.8 175.1,133.2 180.2,133.0 185.2,132.7 190.3,132.4 195.3,131.9 200.3,131.5 205.4,131.2 210.4,131.0 215.5,130.9 220.5,130.9"/>
<polyline stroke="#28E2E5" points="54.1,35.6 59.1,40.6 64.2,45.5 69.2,50.2 74.3,54.9 79.3,59.4 84.4,63.9 89.4,68.2 94.4,72.5 99.5,76.5 104.5,80.2 109.6,83.5 114.6,86.7 119.7,89.4 124.7,92.3 129.7,96.3 134.8,99.9 139.8,103.0 144.9,106.2 149.9,109.7 155.0,113.3 160.0,116.5 165.0,119.5 170.1,122.0 175.1,124.2 180.2,126.0 185.2,127.6 190.3,128.9 195.3,130.1 200.3,130.9 205.4,130.9"/>
<polyline stroke="#2297E6" points="54.1,94.6 59.1,95.2 64.2,96.2 69.2,97.3 74.3,98.7 79.3,100.4 84.4,102.2 89.4,104.2 94.4,106.4 99.5,108.6 104.5,111.0 109.6,113.4 114.6,115.8 119.7,118.2 124.7,120.6 129.7,122.9 134.8,125.0 139.8,127.0 144.9,129.1 149.9,130.2 155.0,130.3 160.0,130.4 165.0,130.4 170.1,130.5 175.1,130.5 180.2,130.6 185.2,130.6 190.3,130.7 195.3,130.7 200.3,130.8 205.4,130.8 210.4,130.8 215.5,130.8 220.5,130.9 225.6,130.9 230.6,130.9 235.6,130.9"/>
<polyline stroke="#DF536B" points="54.1,246.6 59.1,241.3 64.2,235.7 69.2,230.3 74.3,225.0 79.3,220.0 84.4,214.9 89.4,209.2 94.4,203.2 99.5,196.4 104.5,188.8 109.6,181.1 114.6,173.3 119.7,165.3 124.7,157.5 129.7,150.0 134.8,143.6 139.8,137.8 144.9,133.8 149.9,131.7 155.0,131.0 160.0,130.9 165.0,130.9"/>
<polyline stroke="#CD0BBC" points="54.1,122.0 59.1,122.7 64.2,123.6 69.2,124.5 74.3,125.6 79.3,126.7 84.4,127.9 89.4,129.2 94.4,130.4 99.5,130.9 104.5,130.9"/>
<polyline stroke="#000000" points="54.1,160.4 59.1,160.6 64.2,160.2 69.2,159.2 74.3,157.4 79.3,155.0 84.4,152.2 89.4,149.3 94.4,146.5 99.5,144.0 104.5,141.9 109.6,140.4 114.6,139.3 119.7,138.6 124.7,138.0 129.7,137.5 134.8,136.7 139.8,135.4 144.9,133.7 149.9,131.9 155.0,130.9 160.0,130.9"/>
<polyline stroke="#DF536B" points="54.1,129.0 59.1,129.0 64.2,129.0 69.2,128.9 74.3,128.9 79.3,128.9 84.4,128.9 89.4,129.0 94.4,129.1 99.5,129.2 104.5,129.4 109.6,129.7 114.6,130.2 119.7,130.7 124.7,130.9 129.7,130.9"/>
<polyline stroke="#61D04F" points="54.1,132.1 59.1,132.0 64.2,131.9 69.2,131.7 74.3,131.5 79.3,131.3 84.4,131.1 89.4,130.9 94.4,130.8 99.5,130.7 104.5,130.6 109.6,130.6 114.6,130.6 119.7,130.6 124.7,130.7 129.7,130.8 134.8,130.9 139.8,131.0 144.9,131.0 149.9,131.1 155.0,131.1 160.0,131.1 165.0,131.0 170.1,131.0 175.1,130.9 180.2,130.9"/>
<polyline stroke="#2297E6" points="54.1,136.2 59.1,136.4 64.2,136.6 69.2,136.7 74.3,136.8 79.3,136.8 84.4,136.8 89.4,136.5 94.4,136.2 99.5,135.8 104.5,135.2 109.6,134.6 114.6,133.9 119.7,133.3 124.7,132.6 129.7,132.1 134.8,131.6 139.8,131.2 144.9,130.9 149.9,130.9"/>
<polyline stroke="#2297E6" points="54.1,42.1 59.1,46.6 64.2,51.0 69.2,55.2 74.3,59.3 79.3,63.3 84.4,67.3 89.4,71.4 94.4,75.8 99.5,80.3 104.5,84.9 109.6,89.6 114.6,94.9 119.7,100.5 124.7,105.7 129.7,110.1 134.8,113.9 139.8,117.0 144.9,119.7 149.9,122.0 155.0,123.8 160.0,125.4 165.0,126.8 170.1,128.0 175.1,129.1 180.2,130.1 185.2,130.9 190.3,130.9"/>
<polyline stroke="#CD0BBC" points="54.1,131.6 59.1,131.5 64.2,131.3 69.2,131.1 74.3,130.9 79.3,130.9"/>
<polyline stroke="#000000" points="54.1,126.5 59.1,127.2 64.2,127.8 69.2,128.4 74.3,128.7 79.3,128.9 84.4,129.0 89.4,128.9 94.4,128.7 99.5,128.6 104.5,128.5 109.6,128.5 114.6,128.6 119.7,128.8 124.7,129.2 129.7,129.6 134.8,130.0 139.8,130.4 144.9,130.7 149.9,130.9 155.0,130.9"/>
<polyline stroke="#DF536B" points="54.1,185.0 59.1,184.1 64.2,183.4 69.2,182.6 74.3,181.4 79.3,179.5 84.4,176.9 89.4,173.6 94.4,169.7 99.5,165.3 104.5,160.8 109.6,156.3 114.6,152.1 119.7,148.3 124.7,145.0 129.7,142.1 134.8,139.7 139.8,136.8 144.9,133.3 149.9,131.5 155.0,131.4 160.0,131.4 165.0,131.3 170.1,131.3 175.1,131.2 180.2,131.2 185.2,131.2 190.3,131.1 195.3,131.1 200.3,131.1 205.4,131.0 210.4,131.0 215.5,131.0 220.5,131.0 225.6,131.0 230.6,131.0 235.6,131.0 240.7,131.0 245.7,131.0 250.8,131.0 255.8,130.9"/>
<polyline stroke="#61D04F" points="54.1,136.8 59.1,136.1 64.2,135.2 69.2,134.3 74.3,133.4 79.3,132.6 84.4,131.9 89.4,131.5 94.4,131.3 99.5,131.2 104.5,131.3 109.6,131.4 114.6,131.5 119.7,131.6 124.7,131.6 129.7,131.5 134.8,131.2 139.8,131.0 144.9,130.9 149.9,130.9 155.0,130.9"/>
<polyline stroke="#2297E6" points="54.1,63.6 59.1,67.1 64.2,70.7 69.2,74.3 74.3,77.9 79.3,81.6 84.4,85.2 89.4,88.7 94.4,92.2 99.5,95.5 104.5,98.7 109.6,101.8 114.6,104.8 119.7,107.5 124.7,110.2 129.7,112.6 134.8,114.9 139.8,117.1 144.9,119.2 149.9,120.8 155.0,122.4 160.0,124.0 165.0,125.8 170.1,127.1 175.1,127.5 180.2,127.8 185.2,128.2 190.3,128.7 195.3,129.2 200.3,129.4 205.4,129.7 210.4,129.9 215.5,130.1 220.5,130.3 225.6,130.4 230.6,130.5 235.6,130.6 240.7,130.7 245.7,130.8 250.8,130.9"/>
<polyline stroke="#28E2E5" points="54.1,77.0 59.1,81.1 64.2,85.1 69.2,88.7 74.3,91.8 79.3,94.2 84.4,96.0 89.4,97.3 94.4,98.1 99.5,98.8 104.5,99.5 109.6,100.5 114.6,101.8 119.7,103.7 124.7,106.1 129.7,108.9 134.8,112.1 139.8,115.3 144.9,118.6 149.9,121.4 155.0,123.7 160.0,125.7 165.0,126.9 170.1,127.4 175.1,127.7 180.2,128.1 185.2,128.4 190.3,128.9 195.3,129.3 200.3,129.6 205.4,129.9 210.4,130.3 215.5,130.6 220.5,130.8 225.6,130.9 230.6,130.9"/>
<polyline stroke="#CD0BBC" points="54.1,149.7 59.1,147.5 64.2,145.3 69.2,143.0 74.3,140.7 79.3,138.4 84.4,136.2 89.4,134.1 94.4,132.2 99.5,130.6 104.5,129.3 109.6,128.5 114.6,128.2 119.7,127.9 124.7,128.2 129.7,128.4 134.8,128.7 139.8,129.0 144.9,129.2 149.9,129.4 155.0,129.6 160.0,129.8 165.0,130.2 170.1,130.5 175.1,130.7 180.2,130.9 185.2,130.9"/>
<polyline stroke="#000000" points="54.1,127.2 59.1,127.1 64.2,127.0 69.2,127.0 74.3,127.1 79.3,127.4 84.4,127.8 89.4,128.3 94.4,128.8 99.5,129.3 104.5,129.8 109.6,130.2 114.6,130.4 119.7,130.6 124.7,130.7 129.7,130.7 134.8,130.7 139.8,130.8 144.9,130.9 149.9,130.9"/>
<polyline stroke="#DF536B" points="54.1,165.6 59.1,162.1 64.2,158.4 69.2,154.7 74.3,151.5 79.3,148.9 84.4,147.1 89.4,146.0 94.4,145.4 99.5,145.4 104.5,145.4 109.6,145.5 114.6,145.2 119.7,144.5 124.7,143.3 129.7,141.7 134.8,139.8 139.8,137.7 144.9,135.7 149.9,134.0 155.0,132.9 160.0,132.3 165.0,131.9 170.1,131.5 175.1,131.3 180.2,131.3 185.2,131.2 190.3,131.2 195.3,131.1 200.3,131.0 205.4,131.0 210.4,131.0 215.5,130.9 220.5,130.9"/>
<polyline stroke="#61D04F" points="54.1,60.0 59.1,61.2 64.2,63.2 69.2,66.2 74.3,69.9 79.3,74.3 84.4,79.0 89.4,83.7 94.4,88.1 99.5,92.0 104.5,95.2 109.6,97.8 114.6,99.8 119.7,101.4 124.7,102.8 129.7,104.4 134.8,106.3 139.8,108.6 144.9,111.5 149.9,114.7 155.0,118.5 160.0,122.3 165.0,125.6 170.1,128.3 175.1,130.6 180.2,131.2 185.2,130.9 190.3,130.9"/>
<polyline stroke="#2297E6" points="54.1,142.1 59.1,141.2 64.2,140.0 69.2,138.6 74.3,136.9 79.3,135.1 84.4,133.3 89.4,131.5 94.4,130.0 99.5,128.7 104.5,127.6 109.6,126.9 114.6,126.5 119.7,126.2 124.7,126.1 129.7,126.1 134.8,125.8 139.8,125.4 144.9,125.3 149.9,126.0 155.0,126.7 160.0,127.2 165.0,127.6 170.1,128.0 175.1,128.3 180.2,128.6 185.2,128.9 190.3,129.4 195.3,130.0 200.3,130.4 205.4,130.8 210.4,130.9 215.5,130.9"/>
<polyline stroke="#28E2E5" points="54.1,104.5 59.1,105.9 64.2,107.1 69.2,108.2 74.3,109.5 79.3,111.2 84.4,113.3 89.4,115.8 94.4,118.6 99.5,121.5 104.5,124.4 109.6,127.1 114.6,129.3 119.7,130.9 124.7,132.0 129.7,132.5 134.8,132.6 139.8,132.0 144.9,131.5 149.9,131.3 155.0,130.9 160.0,130.9"/>
<polyline stroke="#CD0BBC" points="54.1,127.7 59.1,127.9 64.2,128.2 69.2,128.6 74.3,129.0 79.3,129.4 84.4,129.8 89.4,130.2 94.4,130.5 99.5,130.7 104.5,130.9 109.6,131.0 114.6,131.0 119.7,130.9 124.7,130.9 129.7,130.9 134.8,130.9"/>
<polyline stroke="#000000" points="54.1,188.8 59.1,185.1 64.2,182.1 69.2,179.6 74.3,177.5 79.3,175.7 84.4,174.1 89.4,172.6 94.4,171.1 99.5,169.4 104.5,167.5 109.6,165.4 114.6,163.0 119.7,160.3 124.7,157.5 129.7,154.5 134.8,151.5 139.8,148.5 144.9,145.8 149.9,143.2 155.0,141.0 160.0,139.2 165.0,137.7 170.1,136.9 175.1,136.3 180.2,135.8 185.2,135.3 190.3,134.8 195.3,134.1 200.3,133.6 205.4,133.1 210.4,132.7 215.5,132.4 220.5,132.1 225.6,131.9 230.6,131.7 235.6,131.6 240.7,131.5 245.7,131.5 250.8,131.3 255.8,131.1 260.9,131.0 265.9,130.9"/>
<polyline stroke="#DF536B" points="54.1,131.8 59.1,131.6 64.2,131.4 69.2,131.3 74.3,131.2 79.3,131.1 84.4,131.0 89.4,131.0 94.4,130.9 99.5,130.9"/>
<polyline stroke="#61D04F" points="54.1,128.6 59.1,128.4 64.2,128.3 69.2,128.2 74.3,128.3 79.3,128.5 84.4,128.9 89.4,129.3 94.4,129.7 99.5,130.2 104.5,130.6 109.6,130.9 114.6,131.0 119.7,131.1 124.7,131.0 129.7,130.9 134.8,130.9"/>
<polyline stroke="#2297E6" points="54.1,123.3 59.1,123.4 64.2,123.2 69.2,122.9 74.3,122.7 79.3,122.7 84.4,122.9 89.4,123.4 94.4,124.2 99.5,125.1 104.5,126.2 109.6,127.3 114.6,128.2 119.7,128.9 124.7,129.4 129.7,129.7 134.8,129.8 139.8,129.8 144.9,129.8 149.9,129.9 155.0,130.2 160.0,130.5 165.0,130.9 170.1,130.9 175.1,130.9"/>
<polyline stroke="#28E2E5" points="54.1,84.7 59.1,84.6 64.2,85.5 69.2,87.3 74.3,89.9 79.3,92.9 84.4,96.1 89.4,99.3 94.4,102.0 99.5,104.1 104.5,105.6 109.6,106.5 114.6,107.0 119.7,107.3 124.7,107.7 129.7,108.3 134.8,109.4 139.8,111.0 144.9,113.3 149.9,116.2 155.0,119.0 160.0,121.6 165.0,123.9 170.1,125.9 175.1,127.6 180.2,129.1 185.2,130.4 190.3,130.9 195.3,130.9"/>
<polyline stroke="#CD0BBC" points="54.1,132.0 59.1,131.2 64.2,130.4 69.2,129.8 74.3,129.3 79.3,128.9 84.4,128.6 89.4,128.5 94.4,128.4 99.5,128.4 104.5,128.3 109.6,128.2 114.6,127.9 119.7,127.5 124.7,127.1 129.7,127.4 134.8,127.8 139.8,128.2 144.9,128.5 149.9,128.8 155.0,129.1 160.0,129.3 165.0,129.5 170.1,129.7 175.1,129.8 180.2,129.9 185.2,130.1 190.3,130.2 195.3,130.4 200.3,130.4 205.4,130.5 210.4,130.6 215.5,130.7 220.5,130.8 225.6,130.9 230.6,130.9 235.6,130.9"/>
<polyline stroke="#000000" points="54.1,101.4 59.1,101.0 64.2,100.8 69.2,100.6 74.3,100.6 79.3,100.8 84.4,101.2 89.4,101.8 94.4,102.7 99.5,103.8 104.5,105.1 109.6,106.8 114.6,108.7 119.7,111.1 124.7,113.4 129.7,115.5 134.8,117.1 139.8,118.8 144.9,120.3 149.9,121.7 155.0,123.0 160.0,124.0 165.0,125.3 170.1,127.2 175.1,128.8 180.2,130.1 185.2,130.9 190.3,130.9"/>
<polyline stroke="#DF536B" points="54.1,111.7 59.1,111.6 64.2,111.3 69.2,111.0 74.3,110.8 79.3,110.5 84.4,110.5 89.4,110.5 94.4,110.9 99.5,111.4 104.5,112.2 109.6,113.3 114.6,114.7 119.7,116.2 124.7,118.0 129.7,119.8 134.8,121.8 139.8,123.8 144.9,125.8 149.9,127.6 155.0,129.4 160.0,130.9 165.0,130.9"/>
<polyline stroke="#61D04F" points="54.1,65.3 59.1,67.4 64.2,69.3 69.2,71.5 74.3,73.9 79.3,76.9 84.4,80.4 89.4,84.4 94.4,89.0 99.5,93.9 104.5,99.1 109.6,104.2 114.6,109.2 119.7,113.9 124.7,118.2 129.7,121.7 134.8,124.9 139.8,128.3 144.9,130.4 149.9,130.5 155.0,130.5 160.0,130.6 165.0,130.6 170.1,130.7 175.1,130.7 180.2,130.7 185.2,130.7 190.3,130.8 195.3,130.8 200.3,130.8 205.4,130.9 210.4,130.9 215.5,130.9 220.5,130.9"/>
<polyline stroke="#2297E6" points="54.1,150.3 59.1,149.7 64.2,148.8 69.2,147.8 74.3,146.5 79.3,145.1 84.4,143.6 89.4,142.1 94.4,140.8 99.5,139.7 104.5,138.8 109.6,138.3 114.6,138.3 119.7,138.3 124.7,138.1 129.7,137.4 134.8,136.7 139.8,136.0 144.9,135.4 149.9,134.8 155.0,134.2 160.0,133.6 165.0,132.7 170.1,131.9 175.1,131.3 180.2,130.9 185.2,130.9"/>
<polyline stroke="#28E2E5" points="54.1,202.5 59.1,199.5 64.2,196.6 69.2,193.8 74.3,191.0 79.3,188.3 84.4,185.6 89.4,182.9 94.4,180.2 99.5,177.5 104.5,174.7 109.6,171.9 114.6,169.0 119.7,166.2 124.7,163.2 129.7,160.2 134.8,157.2 139.8,154.0 144.9,150.9 149.9,147.8 155.0,144.7 160.0,141.3 165.0,138.2 170.1,135.4 175.1,133.0 180.2,131.4 185.2,131.2 190.3,131.0 195.3,130.9 200.3,130.9"/>
<polyline stroke="#CD0BBC" points="54.1,175.1 59.1,175.6 64.2,176.0 69.2,175.7 74.3,174.6 79.3,172.7 84.4,170.0 89.4,166.7 94.4,163.1 99.5,159.6 104.5,156.5 109.6,153.9 114.6,152.0 119.7,150.8 124.7,150.1 129.7,149.7 134.8,149.5 139.8,149.0 144.9,148.2 149.9,146.7 155.0,144.7 160.0,142.8 165.0,141.1 170.1,139.8 175.1,138.9 180.2,138.1 185.2,136.2 190.3,134.0 195.3,132.4 200.3,131.4 205.4,130.9 210.4,130.9"/>
<polyline stroke="#000000" points="54.1,110.9 59.1,112.2 64.2,114.0 69.2,116.2 74.3,118.5 79.3,120.8 84.4,122.9 89.4,124.5 94.4,125.7 99.5,126.5 104.5,127.0 109.6,127.3 114.6,127.7 119.7,128.2 124.7,129.2 129.7,130.3 134.8,131.1 139.8,131.1 144.9,131.1 149.9,131.1 155.0,131.0 160.0,131.0 165.0,131.0 170.1,131.0 175.1,131.0 180.2,131.0 185.2,131.0 190.3,131.0 195.3,131.0 200.3,130.9 205.4,130.9"/>
<polyline stroke="#DF536B" points="54.1,182.1 59.1,178.5 64.2,174.9 69.2,171.7 74.3,168.7 79.3,166.2 84.4,164.3 89.4,162.7 94.4,161.5 99.5,160.6 104.5,159.8 109.6,158.9 114.6,157.8 119.7,156.4 124.7,154.7 129.7,152.5 134.8,150.0 139.8,147.1 144.9,143.9 149.9,140.5 155.0,137.4 160.0,134.7 165.0,132.1 170.1,131.5 175.1,131.5 180.2,131.4 185.2,131.3 190.3,131.3 195.3,131.2 200.3,131.2 205.4,131.1 210.4,131.1 215.5,131.1 220.5,131.0 225.6,131.0 230.6,131.0 235.6,131.0 240.7,131.0 245.7,131.0 250.8,131.0 255.8,131.0 260.9,131.0 265.9,131.0 270.9,130.9"/>
<polyline stroke="#61D04F" points="54.1,172.5 59.1,171.5 64.2,170.0 69.2,167.9 74.3,165.3 79.3,162.2 84.4,158.8 89.4,155.5 94.4,152.3 99.5,149.6 104.5,147.4 109.6,145.7 114.6,144.5 119.7,143.8 124.7,143.4 129.7,142.7 134.8,141.8 139.8,140.7 144.9,139.5 149.9,138.4 155.0,137.3 160.0,136.5 165.0,135.9 170.1,134.4 175.1,133.1 180.2,132.0 185.2,131.2 190.3,130.9 195.3,130.9"/>
<polyline stroke="#2297E6" points="54.1,142.5 59.1,141.4 64.2,140.2 69.2,139.1 74.3,138.0 79.3,137.0 84.4,135.9 89.4,134.9 94.4,134.0 99.5,133.1 104.5,132.4 109.6,131.7 114.6,131.2 119.7,130.9 124.7,130.8 129.7,130.9 134.8,130.9 139.8,130.9"/>
<polyline stroke="#28E2E5" points="54.1,183.2 59.1,182.3 64.2,181.6 69.2,181.1 74.3,180.7 79.3,180.2 84.4,179.5 89.4,178.5 94.4,177.1 99.5,175.3 104.5,172.9 109.6,170.2 114.6,166.8 119.7,163.1 124.7,159.6 129.7,156.7 134.8,153.9 139.8,151.1 144.9,148.6 149.9,146.3 155.0,144.1 160.0,142.4 165.0,141.2 170.1,140.0 175.1,139.2 180.2,138.3 185.2,137.3 190.3,136.2 195.3,135.1 200.3,134.2 205.4,132.9 210.4,132.0 215.5,131.3 220.5,130.9 225.6,130.9"/>
<polyline stroke="#CD0BBC" points="54.1,83.5 59.1,84.6 64.2,85.7 69.2,86.9 74.3,88.1 79.3,89.4 84.4,90.8 89.4,92.4 94.4,94.2 99.5,96.1 104.5,98.1 109.6,100.3 114.6,102.5 119.7,104.8 124.7,107.0 129.7,109.2 134.8,111.3 139.8,113.2 144.9,114.8 149.9,116.0 155.0,117.0 160.0,117.9 165.0,119.1 170.1,120.5 175.1,121.4 180.2,122.4 185.2,123.6 190.3,124.8 195.3,126.1 200.3,126.9 205.4,127.6 210.4,128.2 215.5,129.2 220.5,130.0 225.6,130.5 230.6,130.9 235.6,130.9 240.7,130.9"/>
<polyline stroke="#000000" points="54.1,125.8 59.1,127.3 64.2,129.0 69.2,130.8 74.3,132.8 79.3,134.7 84.4,136.5 89.4,138.2 94.4,139.7 99.5,140.9 104.5,142.0 109.6,142.9 114.6,143.6 119.7,144.0 124.7,144.7 129.7,145.5 134.8,143.9 139.8,142.3 144.9,140.9 149.9,139.6 155.0,138.4 160.0,137.4 165.0,136.7 170.1,136.1 175.1,135.6 180.2,135.1 185.2,134.5 190.3,133.9 195.3,132.9 200.3,132.1 205.4,131.5 210.4,131.1 215.5,130.9 220.5,130.9"/>
<polyline stroke="#DF536B" points="54.1,147.0 59.1,146.7 64.2,146.8 69.2,146.9 74.3,147.1 79.3,147.0 84.4,146.6 89.4,145.8 94.4,144.5 99.5,143.0 104.5,141.2 109.6,139.2 114.6,137.3 119.7,135.5 124.7,134.0 129.7,133.0 134.8,132.1 139.8,131.1 144.9,130.9 149.9,130.9"/>
<polyline stroke="#61D04F" points="54.1,130.2 59.1,130.2 64.2,130.2 69.2,130.3 74.3,130.3 79.3,130.3 84.4,130.4 89.4,130.5 94.4,130.6 99.5,130.8 104.5,130.9 109.6,130.9"/>
<polyline stroke="#2297E6" points="54.1,113.0 59.1,113.8 64.2,114.5 69.2,115.1 74.3,115.6 79.3,116.0 84.4,116.4 89.4,116.8 94.4,117.3 99.5,117.9 104.5,118.5 109.6,119.3 114.6,120.1 119.7,121.2 124.7,122.6 129.7,123.9 134.8,125.1 139.8,125.9 144.9,126.5 149.9,127.1 155.0,127.6 160.0,128.1 165.0,128.4 170.1,128.7 175.1,128.9 180.2,129.1 185.2,129.3 190.3,129.7 195.3,130.2 200.3,130.5 205.4,130.8 210.4,130.9 215.5,130.9"/>
<polyline stroke="#28E2E5" points="54.1,87.9 59.1,92.2 64.2,96.1 69.2,99.6 74.3,102.7 79.3,105.1 84.4,107.1 89.4,108.6 94.4,109.8 99.5,110.7 104.5,111.4 109.6,112.2 114.6,113.1 119.7,114.2 124.7,115.5 129.7,117.1 134.8,119.0 139.8,121.0 144.9,123.2 149.9,125.6 155.0,127.6 160.0,129.2 165.0,130.5 170.1,130.9 175.1,130.9"/>
<polyline stroke="#CD0BBC" points="54.1,74.9 59.1,77.2 64.2,79.1 69.2,80.8 74.3,82.4 79.3,83.8 84.4,85.2 89.4,86.7 94.4,88.4 99.5,90.4 104.5,92.6 109.6,95.2 114.6,98.1 119.7,101.3 124.7,104.8 129.7,108.5 134.8,112.5 139.8,116.6 144.9,120.3 149.9,123.7 155.0,126.1 160.0,126.7 165.0,127.2 170.1,127.6 175.1,127.9 180.2,128.2 185.2,128.6 190.3,129.0 195.3,129.4 200.3,129.6 205.4,129.9 210.4,130.2 215.5,130.5 220.5,130.7 225.6,130.9 230.6,130.9 235.6,130.9"/>
<polyline stroke="#000000" points="54.1,112.4 59.1,113.3 64.2,114.4 69.2,115.7 74.3,117.1 79.3,118.6 84.4,120.0 89.4,121.5 94.4,122.8 99.5,124.0 104.5,125.1 109.6,126.0 114.6,126.7 119.7,127.2 124.7,127.4 129.7,127.6 134.8,127.9 139.8,128.3 144.9,128.6 149.9,128.9 155.0,129.2 160.0,129.4 165.0,129.6 170.1,129.7 175.1,129.9 180.2,130.0 185.2,130.3 190.3,130.6 195.3,130.8 200.3,130.9 205.4,130.9"/>
<polyline stroke="#DF536B" points="54.1,87.9 59.1,88.0 64.2,87.8 69.2,87.6 74.3,87.7 79.3,88.3 84.4,89.5 89.4,91.4 94.4,93.8 99.5,96.7 104.5,99.9 109.6,103.0 114.6,106.0 119.7,108.6 124.7,110.8 129.7,112.5 134.8,113.7 139.8,114.6 144.9,115.3 149.9,115.9 155.0,117.0 160.0,118.4 165.0,119.9 170.1,121.3 175.1,122.2 180.2,123.1 185.2,124.1 190.3,125.3 195.3,126.5 200.3,127.2 205.4,127.9 210.4,128.5 215.5,129.4 220.5,130.1 225.6,130.6 230.6,130.9 235.6,130.9 240.7,130.9"/>
<polyline stroke="#61D04F" points="54.1,83.5 59.1,87.7 64.2,91.5 69.2,94.7 74.3,97.4 79.3,99.6 84.4,101.4 89.4,102.8 94.4,103.9 99.5,104.9 104.5,105.8 109.6,106.8 114.6,107.8 119.7,109.0 124.7,110.3 129.7,111.8 134.8,113.4 139.8,115.4 144.9,117.0 149.9,118.2 155.0,118.7 160.0,120.0 165.0,121.2 170.1,122.3 175.1,123.1 180.2,123.9 185.2,124.9 190.3,125.9 195.3,126.9 200.3,127.6 205.4,128.2 210.4,129.0 215.5,129.8 220.5,130.4 225.6,130.7 230.6,130.9 235.6,130.9"/>
<polyline stroke="#2297E6" points="54.1,161.9 59.1,158.8 64.2,155.7 69.2,152.6 74.3,149.6 79.3,146.7 84.4,144.0 89.4,141.6 94.4,139.4 99.5,137.4 104.5,135.8 109.6,134.5 114.6,133.5 119.7,132.8 124.7,132.5 129.7,132.2 134.8,131.5 139.8,131.4 144.9,131.4 149.9,131.3 155.0,131.3 160.0,131.2 165.0,131.2 170.1,131.2 175.1,131.1 180.2,131.1 185.2,131.1 190.3,131.1 195.3,131.0 200.3,131.0 205.4,131.0 210.4,131.0 215.5,130.9 220.5,130.9"/>
<polyline stroke="#28E2E5" points="54.1,114.3 59.1,115.8 64.2,117.2 69.2,118.4 74.3,119.5 79.3,120.5 84.4,121.4 89.4,122.2 94.4,123.0 99.5,123.6 104.5,124.2 109.6,124.8 114.6,125.3 119.7,125.8 124.7,126.3 129.7,126.7 134.8,127.2 139.8,127.7 144.9,128.1 149.9,128.5 155.0,129.1 160.0,129.8 165.0,130.3 170.1,130.7 175.1,130.9 180.2,130.9"/>
<polyline stroke="#CD0BBC" points="54.1,153.4 59.1,152.4 64.2,151.5 69.2,150.7 74.3,150.0 79.3,149.3 84.4,148.6 89.4,148.0 94.4,147.4 99.5,146.9 104.5,146.3 109.6,145.7 114.6,145.2 119.7,144.6 124.7,143.9 129.7,143.2 134.8,142.4 139.8,141.6 144.9,140.8 149.9,139.7 155.0,138.4 160.0,137.5 165.0,136.8 170.1,136.1 175.1,135.6 180.2,135.1 185.2,134.6 190.3,133.9 195.3,133.3 200.3,132.9 205.4,132.6 210.4,132.3 215.5,132.0 220.5,131.8 225.6,131.7 230.6,131.5 235.6,131.4 240.7,131.2 245.7,131.1 250.8,131.0 255.8,130.9"/>
<defs><linearGradient id="zg" gradientUnits="userSpaceOnUse" x1="215" y1="0" x2="331" y2="0"><stop offset="0" stop-color="#2297E6"/><stop offset="0.3" stop-color="#28d8e0"/><stop offset="0.75" stop-color="#3cc4a0"/><stop offset="1" stop-color="#8aa050"/></linearGradient></defs>
<line x1="215" y1="130.85" x2="331.5" y2="130.85" stroke="#7d9a3c" stroke-width="1.1"/>
<line x1="215" y1="130.2" x2="331.5" y2="130.2" stroke="url(#zg)" stroke-width="1.0"/>
</g>
<rect x="43.5" y="24.5" width="298.40" height="262.00" fill="none" stroke="#000" stroke-width="0.78"/>
<line x1="58.60" y1="286.50" x2="58.60" y2="293.30" stroke="#000" stroke-width="0.8" />
<line x1="58.60" y1="24.50" x2="58.60" y2="22.50" stroke="#000" stroke-width="0.7" />
<text transform="translate(58.60,311.00) scale(0.81,1)" font-size="10.7" text-anchor="middle" fill="#111" stroke="#111" stroke-width="0.3" >−8</text>
<text transform="translate(58.60,8.80) scale(0.865,1)" font-size="10.7" text-anchor="middle" fill="#111" stroke="#111" stroke-width="0.3" >240</text>
<line x1="118.70" y1="286.50" x2="118.70" y2="293.30" stroke="#000" stroke-width="0.8" />
<line x1="118.70" y1="24.50" x2="118.70" y2="22.50" stroke="#000" stroke-width="0.7" />
<text transform="translate(118.70,311.00) scale(0.81,1)" font-size="10.7" text-anchor="middle" fill="#111" stroke="#111" stroke-width="0.3" >−7</text>
<text transform="translate(118.70,8.80) scale(0.865,1)" font-size="10.7" text-anchor="middle" fill="#111" stroke="#111" stroke-width="0.3" >214</text>
<line x1="178.80" y1="286.50" x2="178.80" y2="293.30" stroke="#000" stroke-width="0.8" />
<line x1="178.80" y1="24.50" x2="178.80" y2="22.50" stroke="#000" stroke-width="0.7" />
<text transform="translate(178.80,311.00) scale(0.81,1)" font-size="10.7" text-anchor="middle" fill="#111" stroke="#111" stroke-width="0.3" >−6</text>
<text transform="translate(179.40,8.80) scale(0.865,1)" font-size="10.7" text-anchor="middle" fill="#111" stroke="#111" stroke-width="0.3" >125</text>
<line x1="238.90" y1="286.50" x2="238.90" y2="293.30" stroke="#000" stroke-width="0.8" />
<line x1="238.90" y1="24.50" x2="238.90" y2="22.50" stroke="#000" stroke-width="0.7" />
<text transform="translate(238.90,311.00) scale(0.81,1)" font-size="10.7" text-anchor="middle" fill="#111" stroke="#111" stroke-width="0.3" >−5</text>
<text transform="translate(239.50,8.80) scale(0.865,1)" font-size="10.7" text-anchor="middle" fill="#111" stroke="#111" stroke-width="0.3" >32</text>
<line x1="299.00" y1="286.50" x2="299.00" y2="293.30" stroke="#000" stroke-width="0.8" />
<line x1="299.00" y1="24.50" x2="299.00" y2="22.50" stroke="#000" stroke-width="0.7" />
<text transform="translate(299.00,311.00) scale(0.81,1)" font-size="10.7" text-anchor="middle" fill="#111" stroke="#111" stroke-width="0.3" >−4</text>
<text transform="translate(299.60,8.80) scale(0.865,1)" font-size="10.7" text-anchor="middle" fill="#111" stroke="#111" stroke-width="0.3" >3</text>
<line x1="43.50" y1="60.40" x2="37.60" y2="60.40" stroke="#000" stroke-width="0.8" />
<text transform="translate(30.00,60.40) rotate(-90) scale(1,0.865)" font-size="10.7" text-anchor="middle" fill="#111" stroke="#111" stroke-width="0.3" >5</text>
<line x1="43.50" y1="130.93" x2="37.60" y2="130.93" stroke="#000" stroke-width="0.8" />
<text transform="translate(30.00,130.93) rotate(-90) scale(1,0.865)" font-size="10.7" text-anchor="middle" fill="#111" stroke="#111" stroke-width="0.3" >0</text>
<line x1="43.50" y1="201.47" x2="37.60" y2="201.47" stroke="#000" stroke-width="0.8" />
<text transform="translate(30.00,201.47) rotate(-90) scale(1,0.865)" font-size="10.7" text-anchor="middle" fill="#111" stroke="#111" stroke-width="0.3" >−5</text>
<line x1="43.50" y1="272.00" x2="37.60" y2="272.00" stroke="#000" stroke-width="0.8" />
<text transform="translate(30.00,272.00) rotate(-90) scale(1,0.865)" font-size="10.7" text-anchor="middle" fill="#111" stroke="#111" stroke-width="0.3" >−10</text>
<text transform="translate(8.00,156.60) rotate(-90) scale(1.036,0.865)" font-size="10.7" text-anchor="middle" fill="#111" stroke="#111" stroke-width="0.3" >Coefficients</text>
<text transform="translate(192.50,337.20) scale(0.865,1)" font-size="10.7" text-anchor="middle" fill="#111" stroke="#111" stroke-width="0.3" >Log Lambda</text>
<text transform="translate(18.45,16.60)" font-size="23.6" text-anchor="middle" fill="#000" stroke="#000" stroke-width="0" >A</text>
<line x1="572.50" y1="27.10" x2="572.50" y2="288.00" stroke="#666" stroke-width="0.7" stroke-dasharray="0.9,2.15"/>
<line x1="618.50" y1="27.10" x2="618.50" y2="288.00" stroke="#666" stroke-width="0.7" stroke-dasharray="0.9,2.15"/>
<path d="M396.10 36.60V180.60M398.81 38.90V183.30M401.52 45.30V187.30M404.23 51.80V191.40M406.94 58.30V195.50M409.66 65.20V199.20M412.37 72.20V203.20M415.08 79.10V207.50M417.79 85.90V211.10M420.50 92.60V215.00M423.21 99.20V218.60M425.92 105.40V221.80M428.63 111.20V225.20M431.34 117.05V228.45M434.05 122.95V231.55M436.77 129.00V234.80M439.48 134.85V237.65M442.19 140.60V240.60M444.90 146.15V243.35M447.61 151.90V246.10M450.32 157.20V248.60M453.03 162.10V250.90M455.74 167.00V253.00M458.45 171.20V254.60M461.16 175.50V256.50M463.88 179.70V258.30M466.59 183.30V259.90M469.30 186.50V261.10M472.01 189.40V261.80M474.72 192.10V262.10M477.43 194.80V262.00M480.14 197.20V262.00M482.85 199.50V262.10M485.56 201.60V262.20M488.27 203.40V262.60M490.99 205.10V263.10M493.70 206.60V263.40M496.41 207.80V263.60M499.12 208.80V263.80M501.83 209.80V263.80M504.54 210.70V263.50M507.25 211.50V262.90M509.96 212.40V262.20M512.67 213.40V261.80M515.38 214.70V261.50M518.10 216.00V262.00M520.81 218.10V263.70M523.52 221.10V266.30M526.23 224.10V268.70M528.94 226.50V270.30M531.65 228.30V271.30M534.36 229.70V272.10M537.07 231.00V272.80M539.78 232.10V273.30M542.49 233.20V273.80M545.21 234.30V274.50M547.92 235.30V275.10M550.63 236.30V275.70M553.34 237.30V276.30M556.05 238.17V276.71M558.76 239.05V277.12M561.47 239.72V277.32M564.18 240.20V277.30M566.89 240.63V277.23M569.60 240.97V277.07M572.32 241.29V276.89M575.03 241.42V276.48M577.74 241.43V275.96M580.45 241.35V275.35M583.16 241.06V274.51M585.87 240.69V273.58M588.58 240.15V272.49M591.29 239.66V271.30M594.00 239.24V269.99M596.71 238.77V268.62M599.42 238.26V267.22M602.14 237.57V265.64M604.85 236.78V263.96M607.56 235.88V262.17M610.27 234.97V260.37M612.98 233.98V258.58M615.69 232.92V256.72M618.40 231.76V254.76M621.11 230.31V252.31M623.82 228.74V249.74M626.53 227.07V247.07M629.25 225.17V244.50M631.96 223.15V241.82M634.67 221.03V239.03M637.38 218.82V236.02M640.09 216.09V232.49M642.80 212.85V229.15M645.51 209.04V225.24M648.22 205.21V221.31M650.93 200.84V216.84M653.64 196.19V212.19M656.36 190.68V206.68M659.07 184.87V200.87M661.78 178.87V194.87M664.49 174.92V190.92" fill="none" stroke="#a9a9a9" stroke-width="0.55"/>
<path d="M393.40 36.60H398.80M393.40 180.60H398.80M396.11 38.90H401.51M396.11 183.30H401.51M398.82 45.30H404.22M398.82 187.30H404.22M401.53 51.80H406.93M401.53 191.40H406.93M404.24 58.30H409.64M404.24 195.50H409.64M406.96 65.20H412.36M406.96 199.20H412.36M409.67 72.20H415.07M409.67 203.20H415.07M412.38 79.10H417.78M412.38 207.50H417.78M415.09 85.90H420.49M415.09 211.10H420.49M417.80 92.60H423.20M417.80 215.00H423.20M420.51 99.20H425.91M420.51 218.60H425.91M423.22 105.40H428.62M423.22 221.80H428.62M425.93 111.20H431.33M425.93 225.20H431.33M428.64 117.05H434.04M428.64 228.45H434.04M431.35 122.95H436.75M431.35 231.55H436.75M434.07 129.00H439.47M434.07 234.80H439.47M436.78 134.85H442.18M436.78 237.65H442.18M439.49 140.60H444.89M439.49 240.60H444.89M442.20 146.15H447.60M442.20 243.35H447.60M444.91 151.90H450.31M444.91 246.10H450.31M447.62 157.20H453.02M447.62 248.60H453.02M450.33 162.10H455.73M450.33 250.90H455.73M453.04 167.00H458.44M453.04 253.00H458.44M455.75 171.20H461.15M455.75 254.60H461.15M458.46 175.50H463.86M458.46 256.50H463.86M461.18 179.70H466.57M461.18 258.30H466.57M463.89 183.30H469.29M463.89 259.90H469.29M466.60 186.50H472.00M466.60 261.10H472.00M469.31 189.40H474.71M469.31 261.80H474.71M472.02 192.10H477.42M472.02 262.10H477.42M474.73 194.80H480.13M474.73 262.00H480.13M477.44 197.20H482.84M477.44 262.00H482.84M480.15 199.50H485.55M480.15 262.10H485.55M482.86 201.60H488.26M482.86 262.20H488.26M485.57 203.40H490.97M485.57 262.60H490.97M488.29 205.10H493.69M488.29 263.10H493.69M491.00 206.60H496.40M491.00 263.40H496.40M493.71 207.80H499.11M493.71 263.60H499.11M496.42 208.80H501.82M496.42 263.80H501.82M499.13 209.80H504.53M499.13 263.80H504.53M501.84 210.70H507.24M501.84 263.50H507.24M504.55 211.50H509.95M504.55 262.90H509.95M507.26 212.40H512.66M507.26 262.20H512.66M509.97 213.40H515.37M509.97 261.80H515.37M512.68 214.70H518.08M512.68 261.50H518.08M515.39 216.00H520.80M515.39 262.00H520.80M518.11 218.10H523.51M518.11 263.70H523.51M520.82 221.10H526.22M520.82 266.30H526.22M523.53 224.10H528.93M523.53 268.70H528.93M526.24 226.50H531.64M526.24 270.30H531.64M528.95 228.30H534.35M528.95 271.30H534.35M531.66 229.70H537.06M531.66 272.10H537.06M534.37 231.00H539.77M534.37 272.80H539.77M537.08 232.10H542.48M537.08 273.30H542.48M539.79 233.20H545.19M539.79 273.80H545.19M542.50 234.30H547.91M542.50 274.50H547.91M545.22 235.30H550.62M545.22 275.10H550.62M547.93 236.30H553.33M547.93 275.70H553.33M550.64 237.30H556.04M550.64 276.30H556.04M553.35 238.17H558.75M553.35 276.71H558.75M556.06 239.05H561.46M556.06 277.12H561.46M558.77 239.72H564.17M558.77 277.32H564.17M561.48 240.20H566.88M561.48 277.30H566.88M564.19 240.63H569.59M564.19 277.23H569.59M566.90 240.97H572.30M566.90 277.07H572.30M569.62 241.29H575.02M569.62 276.89H575.02M572.33 241.42H577.73M572.33 276.48H577.73M575.04 241.43H580.44M575.04 275.96H580.44M577.75 241.35H583.15M577.75 275.35H583.15M580.46 241.06H585.86M580.46 274.51H585.86M583.17 240.69H588.57M583.17 273.58H588.57M585.88 240.15H591.28M585.88 272.49H591.28M588.59 239.66H593.99M588.59 271.30H593.99M591.30 239.24H596.70M591.30 269.99H596.70M594.01 238.77H599.41M594.01 268.62H599.41M596.72 238.26H602.12M596.72 267.22H602.12M599.44 237.57H604.84M599.44 265.64H604.84M602.15 236.78H607.55M602.15 263.96H607.55M604.86 235.88H610.26M604.86 262.17H610.26M607.57 234.97H612.97M607.57 260.37H612.97M610.28 233.98H615.68M610.28 258.58H615.68M612.99 232.92H618.39M612.99 256.72H618.39M615.70 231.76H621.10M615.70 254.76H621.10M618.41 230.31H623.81M618.41 252.31H623.81M621.12 228.74H626.52M621.12 249.74H626.52M623.83 227.07H629.24M623.83 247.07H629.24M626.55 225.17H631.95M626.55 244.50H631.95M629.26 223.15H634.66M629.26 241.82H634.66M631.97 221.03H637.37M631.97 239.03H637.37M634.68 218.82H640.08M634.68 236.02H640.08M637.39 216.09H642.79M637.39 232.49H642.79M640.10 212.85H645.50M640.10 229.15H645.50M642.81 209.04H648.21M642.81 225.24H648.21M645.52 205.21H650.92M645.52 221.31H650.92M648.23 200.84H653.63M648.23 216.84H653.63M650.94 196.19H656.35M650.94 212.19H656.35M653.66 190.68H659.06M653.66 206.68H659.06M656.37 184.87H661.77M656.37 200.87H661.77M659.08 178.87H664.48M659.08 194.87H664.48M661.79 174.92H667.19M661.79 190.92H667.19" fill="none" stroke="#a9a9a9" stroke-width="0.66"/>
<g fill="#ff0000">
<ellipse cx="396.10" cy="108.60" rx="1.7" ry="2.25"/>
<ellipse cx="398.81" cy="111.10" rx="1.7" ry="2.25"/>
<ellipse cx="401.52" cy="116.30" rx="1.7" ry="2.25"/>
<ellipse cx="404.23" cy="121.60" rx="1.7" ry="2.25"/>
<ellipse cx="406.94" cy="126.90" rx="1.7" ry="2.25"/>
<ellipse cx="409.66" cy="132.20" rx="1.7" ry="2.25"/>
<ellipse cx="412.37" cy="137.70" rx="1.7" ry="2.25"/>
<ellipse cx="415.08" cy="143.30" rx="1.7" ry="2.25"/>
<ellipse cx="417.79" cy="148.50" rx="1.7" ry="2.25"/>
<ellipse cx="420.50" cy="153.80" rx="1.7" ry="2.25"/>
<ellipse cx="423.21" cy="158.90" rx="1.7" ry="2.25"/>
<ellipse cx="425.92" cy="163.60" rx="1.7" ry="2.25"/>
<ellipse cx="428.63" cy="168.20" rx="1.7" ry="2.25"/>
<ellipse cx="431.34" cy="172.75" rx="1.7" ry="2.25"/>
<ellipse cx="434.05" cy="177.25" rx="1.7" ry="2.25"/>
<ellipse cx="436.77" cy="181.90" rx="1.7" ry="2.25"/>
<ellipse cx="439.48" cy="186.25" rx="1.7" ry="2.25"/>
<ellipse cx="442.19" cy="190.60" rx="1.7" ry="2.25"/>
<ellipse cx="444.90" cy="194.75" rx="1.7" ry="2.25"/>
<ellipse cx="447.61" cy="199.00" rx="1.7" ry="2.25"/>
<ellipse cx="450.32" cy="202.90" rx="1.7" ry="2.25"/>
<ellipse cx="453.03" cy="206.50" rx="1.7" ry="2.25"/>
<ellipse cx="455.74" cy="210.00" rx="1.7" ry="2.25"/>
<ellipse cx="458.45" cy="212.90" rx="1.7" ry="2.25"/>
<ellipse cx="461.16" cy="216.00" rx="1.7" ry="2.25"/>
<ellipse cx="463.88" cy="219.00" rx="1.7" ry="2.25"/>
<ellipse cx="466.59" cy="221.60" rx="1.7" ry="2.25"/>
<ellipse cx="469.30" cy="223.80" rx="1.7" ry="2.25"/>
<ellipse cx="472.01" cy="225.60" rx="1.7" ry="2.25"/>
<ellipse cx="474.72" cy="227.10" rx="1.7" ry="2.25"/>
<ellipse cx="477.43" cy="228.40" rx="1.7" ry="2.25"/>
<ellipse cx="480.14" cy="229.60" rx="1.7" ry="2.25"/>
<ellipse cx="482.85" cy="230.80" rx="1.7" ry="2.25"/>
<ellipse cx="485.56" cy="231.90" rx="1.7" ry="2.25"/>
<ellipse cx="488.27" cy="233.00" rx="1.7" ry="2.25"/>
<ellipse cx="490.99" cy="234.10" rx="1.7" ry="2.25"/>
<ellipse cx="493.70" cy="235.00" rx="1.7" ry="2.25"/>
<ellipse cx="496.41" cy="235.70" rx="1.7" ry="2.25"/>
<ellipse cx="499.12" cy="236.30" rx="1.7" ry="2.25"/>
<ellipse cx="501.83" cy="236.80" rx="1.7" ry="2.25"/>
<ellipse cx="504.54" cy="237.10" rx="1.7" ry="2.25"/>
<ellipse cx="507.25" cy="237.20" rx="1.7" ry="2.25"/>
<ellipse cx="509.96" cy="237.30" rx="1.7" ry="2.25"/>
<ellipse cx="512.67" cy="237.60" rx="1.7" ry="2.25"/>
<ellipse cx="515.38" cy="238.10" rx="1.7" ry="2.25"/>
<ellipse cx="518.10" cy="239.00" rx="1.7" ry="2.25"/>
<ellipse cx="520.81" cy="240.90" rx="1.7" ry="2.25"/>
<ellipse cx="523.52" cy="243.70" rx="1.7" ry="2.25"/>
<ellipse cx="526.23" cy="246.40" rx="1.7" ry="2.25"/>
<ellipse cx="528.94" cy="248.40" rx="1.7" ry="2.25"/>
<ellipse cx="531.65" cy="249.80" rx="1.7" ry="2.25"/>
<ellipse cx="534.36" cy="250.90" rx="1.7" ry="2.25"/>
<ellipse cx="537.07" cy="251.90" rx="1.7" ry="2.25"/>
<ellipse cx="539.78" cy="252.70" rx="1.7" ry="2.25"/>
<ellipse cx="542.49" cy="253.50" rx="1.7" ry="2.25"/>
<ellipse cx="545.21" cy="254.40" rx="1.7" ry="2.25"/>
<ellipse cx="547.92" cy="255.20" rx="1.7" ry="2.25"/>
<ellipse cx="550.63" cy="256.00" rx="1.7" ry="2.25"/>
<ellipse cx="553.34" cy="256.80" rx="1.7" ry="2.25"/>
<ellipse cx="556.05" cy="257.44" rx="1.7" ry="2.25"/>
<ellipse cx="558.76" cy="258.08" rx="1.7" ry="2.25"/>
<ellipse cx="561.47" cy="258.52" rx="1.7" ry="2.25"/>
<ellipse cx="564.18" cy="258.75" rx="1.7" ry="2.25"/>
<ellipse cx="566.89" cy="258.93" rx="1.7" ry="2.25"/>
<ellipse cx="569.60" cy="259.02" rx="1.7" ry="2.25"/>
<ellipse cx="572.32" cy="259.09" rx="1.7" ry="2.25"/>
<ellipse cx="575.03" cy="258.95" rx="1.7" ry="2.25"/>
<ellipse cx="577.74" cy="258.69" rx="1.7" ry="2.25"/>
<ellipse cx="580.45" cy="258.35" rx="1.7" ry="2.25"/>
<ellipse cx="583.16" cy="257.78" rx="1.7" ry="2.25"/>
<ellipse cx="585.87" cy="257.14" rx="1.7" ry="2.25"/>
<ellipse cx="588.58" cy="256.32" rx="1.7" ry="2.25"/>
<ellipse cx="591.29" cy="255.48" rx="1.7" ry="2.25"/>
<ellipse cx="594.00" cy="254.62" rx="1.7" ry="2.25"/>
<ellipse cx="596.71" cy="253.70" rx="1.7" ry="2.25"/>
<ellipse cx="599.42" cy="252.74" rx="1.7" ry="2.25"/>
<ellipse cx="602.14" cy="251.61" rx="1.7" ry="2.25"/>
<ellipse cx="604.85" cy="250.37" rx="1.7" ry="2.25"/>
<ellipse cx="607.56" cy="249.02" rx="1.7" ry="2.25"/>
<ellipse cx="610.27" cy="247.67" rx="1.7" ry="2.25"/>
<ellipse cx="612.98" cy="246.28" rx="1.7" ry="2.25"/>
<ellipse cx="615.69" cy="244.82" rx="1.7" ry="2.25"/>
<ellipse cx="618.40" cy="243.26" rx="1.7" ry="2.25"/>
<ellipse cx="621.11" cy="241.31" rx="1.7" ry="2.25"/>
<ellipse cx="623.82" cy="239.24" rx="1.7" ry="2.25"/>
<ellipse cx="626.53" cy="237.07" rx="1.7" ry="2.25"/>
<ellipse cx="629.25" cy="234.83" rx="1.7" ry="2.25"/>
<ellipse cx="631.96" cy="232.49" rx="1.7" ry="2.25"/>
<ellipse cx="634.67" cy="230.03" rx="1.7" ry="2.25"/>
<ellipse cx="637.38" cy="227.42" rx="1.7" ry="2.25"/>
<ellipse cx="640.09" cy="224.29" rx="1.7" ry="2.25"/>
<ellipse cx="642.80" cy="221.00" rx="1.7" ry="2.25"/>
<ellipse cx="645.51" cy="217.14" rx="1.7" ry="2.25"/>
<ellipse cx="648.22" cy="213.26" rx="1.7" ry="2.25"/>
<ellipse cx="650.93" cy="208.84" rx="1.7" ry="2.25"/>
<ellipse cx="653.64" cy="204.19" rx="1.7" ry="2.25"/>
<ellipse cx="656.36" cy="198.68" rx="1.7" ry="2.25"/>
<ellipse cx="659.07" cy="192.87" rx="1.7" ry="2.25"/>
<ellipse cx="661.78" cy="186.87" rx="1.7" ry="2.25"/>
<ellipse cx="664.49" cy="182.92" rx="1.7" ry="2.25"/>
</g>
<line x1="385.40" y1="27.10" x2="675.30" y2="27.10" stroke="#444" stroke-width="1.0" />
<line x1="675.40" y1="27.10" x2="675.40" y2="288.00" stroke="#444" stroke-width="0.9" />
<line x1="384.90" y1="288.00" x2="675.80" y2="288.00" stroke="#111" stroke-width="1.2" />
<line x1="385.40" y1="26.60" x2="385.40" y2="288.00" stroke="#111" stroke-width="1.1" />
<line x1="389.50" y1="288.00" x2="389.50" y2="295.50" stroke="#111" stroke-width="1.0" />
<text transform="translate(389.50,314.20) scale(0.755,1)" font-size="11.5" text-anchor="middle" fill="#111" stroke="#111" stroke-width="0.3" >−6</text>
<line x1="447.75" y1="288.00" x2="447.75" y2="295.50" stroke="#111" stroke-width="1.0" />
<text transform="translate(447.75,314.20) scale(0.755,1)" font-size="11.5" text-anchor="middle" fill="#111" stroke="#111" stroke-width="0.3" >−5</text>
<line x1="506.00" y1="288.00" x2="506.00" y2="295.50" stroke="#111" stroke-width="1.0" />
<text transform="translate(506.00,314.20) scale(0.755,1)" font-size="11.5" text-anchor="middle" fill="#111" stroke="#111" stroke-width="0.3" >−4</text>
<line x1="564.25" y1="288.00" x2="564.25" y2="295.50" stroke="#111" stroke-width="1.0" />
<text transform="translate(564.25,314.20) scale(0.755,1)" font-size="11.5" text-anchor="middle" fill="#111" stroke="#111" stroke-width="0.3" >−3</text>
<line x1="622.50" y1="288.00" x2="622.50" y2="295.50" stroke="#111" stroke-width="1.0" />
<text transform="translate(622.50,314.20) scale(0.755,1)" font-size="11.5" text-anchor="middle" fill="#111" stroke="#111" stroke-width="0.3" >−2</text>
<line x1="385.40" y1="249.90" x2="379.80" y2="249.90" stroke="#111" stroke-width="1.1" />
<text transform="translate(374.40,254.15) scale(0.77,1)" font-size="11.5" text-anchor="end" fill="#111" stroke="#111" stroke-width="0.3" >1.0</text>
<line x1="385.40" y1="204.62" x2="379.80" y2="204.62" stroke="#111" stroke-width="1.1" />
<text transform="translate(374.40,208.87) scale(0.77,1)" font-size="11.5" text-anchor="end" fill="#111" stroke="#111" stroke-width="0.3" >1.2</text>
<line x1="385.40" y1="159.34" x2="379.80" y2="159.34" stroke="#111" stroke-width="1.1" />
<text transform="translate(374.40,163.59) scale(0.77,1)" font-size="11.5" text-anchor="end" fill="#111" stroke="#111" stroke-width="0.3" >1.4</text>
<line x1="385.40" y1="114.06" x2="379.80" y2="114.06" stroke="#111" stroke-width="1.1" />
<text transform="translate(374.40,118.31) scale(0.77,1)" font-size="11.5" text-anchor="end" fill="#111" stroke="#111" stroke-width="0.3" >1.6</text>
<line x1="385.40" y1="68.78" x2="379.80" y2="68.78" stroke="#111" stroke-width="1.1" />
<text transform="translate(374.40,73.03) scale(0.77,1)" font-size="11.5" text-anchor="end" fill="#111" stroke="#111" stroke-width="0.3" >1.8</text>
<text transform="translate(400.95,8.50) scale(0.81,1)" font-size="11.5" text-anchor="middle" fill="#111" stroke="#111" stroke-width="0.3" >73</text>
<text transform="translate(419.95,8.50) scale(0.81,1)" font-size="11.5" text-anchor="middle" fill="#111" stroke="#111" stroke-width="0.3" >69</text>
<text transform="translate(439.95,8.50) scale(0.81,1)" font-size="11.5" text-anchor="middle" fill="#111" stroke="#111" stroke-width="0.3" >71</text>
<text transform="translate(458.45,8.50) scale(0.81,1)" font-size="11.5" text-anchor="middle" fill="#111" stroke="#111" stroke-width="0.3" >66</text>
<text transform="translate(477.45,8.50) scale(0.81,1)" font-size="11.5" text-anchor="middle" fill="#111" stroke="#111" stroke-width="0.3" >58</text>
<text transform="translate(496.95,8.50) scale(0.81,1)" font-size="11.5" text-anchor="middle" fill="#111" stroke="#111" stroke-width="0.3" >49</text>
<text transform="translate(515.05,8.50) scale(0.81,1)" font-size="11.5" text-anchor="middle" fill="#111" stroke="#111" stroke-width="0.3" >41</text>
<text transform="translate(534.05,8.50) scale(0.81,1)" font-size="11.5" text-anchor="middle" fill="#111" stroke="#111" stroke-width="0.3" >33</text>
<text transform="translate(553.05,8.50) scale(0.81,1)" font-size="11.5" text-anchor="middle" fill="#111" stroke="#111" stroke-width="0.3" >20</text>
<text transform="translate(572.15,8.50) scale(0.81,1)" font-size="11.5" text-anchor="middle" fill="#111" stroke="#111" stroke-width="0.3" >12</text>
<text transform="translate(587.55,8.50) scale(0.81,1)" font-size="11.5" text-anchor="middle" fill="#111" stroke="#111" stroke-width="0.3" >9</text>
<text transform="translate(601.25,8.50) scale(0.81,1)" font-size="11.5" text-anchor="middle" fill="#111" stroke="#111" stroke-width="0.3" >7</text>
<text transform="translate(615.15,8.50) scale(0.81,1)" font-size="11.5" text-anchor="middle" fill="#111" stroke="#111" stroke-width="0.3" >4</text>
<text transform="translate(628.65,8.50) scale(0.81,1)" font-size="11.5" text-anchor="middle" fill="#111" stroke="#111" stroke-width="0.3" >2</text>
<text transform="translate(642.25,8.50) scale(0.81,1)" font-size="11.5" text-anchor="middle" fill="#111" stroke="#111" stroke-width="0.3" >1</text>
<text transform="translate(655.85,8.50) scale(0.81,1)" font-size="11.5" text-anchor="middle" fill="#111" stroke="#111" stroke-width="0.3" >1</text>
<text transform="translate(669.65,8.50) scale(0.81,1)" font-size="11.5" text-anchor="middle" fill="#111" stroke="#111" stroke-width="0.3" >0</text>
<text transform="translate(356.00,155.50) rotate(-90) scale(1.055,0.81)" font-size="11.5" text-anchor="middle" fill="#111" stroke="#111" stroke-width="0.3" >Binomial Deviance</text>
<text transform="translate(535.50,340.90) scale(0.775,1)" font-size="11.5" text-anchor="middle" fill="#111" stroke="#111" stroke-width="0.3" >Log(lambda)</text>
<text transform="translate(366.40,16.60) scale(1.03,1)" font-size="22.0" text-anchor="middle" fill="#000" stroke="#000" stroke-width="0" >B</text>
</svg>
</body></html>
